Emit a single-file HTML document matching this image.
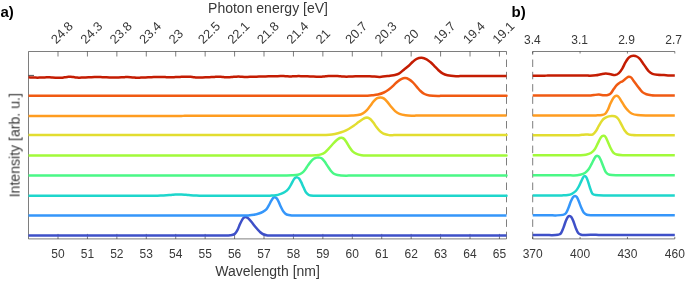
<!DOCTYPE html><html><head><meta charset="utf-8"><style>html,body{margin:0;padding:0;background:#fff;}svg{display:block;}text{font-family:"Liberation Sans", sans-serif;}.t{filter:grayscale(1);}</style></head><body>
<svg width="685" height="283" viewBox="0 0 685 283">
<rect width="685" height="283" fill="#fff"/>
<g stroke="#262626" stroke-width="0.60" fill="none">
<line x1="28.50" y1="51.50" x2="506.50" y2="51.50" />
<line x1="28.50" y1="238.90" x2="506.50" y2="238.90" />
<line x1="28.50" y1="51.50" x2="28.50" y2="238.90" />
<line x1="506.50" y1="51.50" x2="506.50" y2="238.90" stroke-dasharray="7.5,4.8" stroke-dashoffset="4.3"/>
<line x1="58.00" y1="51.50" x2="58.00" y2="56.50" />
<line x1="58.00" y1="238.90" x2="58.00" y2="233.90" />
<line x1="87.43" y1="51.50" x2="87.43" y2="56.50" />
<line x1="87.43" y1="238.90" x2="87.43" y2="233.90" />
<line x1="116.86" y1="51.50" x2="116.86" y2="56.50" />
<line x1="116.86" y1="238.90" x2="116.86" y2="233.90" />
<line x1="146.29" y1="51.50" x2="146.29" y2="56.50" />
<line x1="146.29" y1="238.90" x2="146.29" y2="233.90" />
<line x1="175.72" y1="51.50" x2="175.72" y2="56.50" />
<line x1="175.72" y1="238.90" x2="175.72" y2="233.90" />
<line x1="205.15" y1="51.50" x2="205.15" y2="56.50" />
<line x1="205.15" y1="238.90" x2="205.15" y2="233.90" />
<line x1="234.58" y1="51.50" x2="234.58" y2="56.50" />
<line x1="234.58" y1="238.90" x2="234.58" y2="233.90" />
<line x1="264.01" y1="51.50" x2="264.01" y2="56.50" />
<line x1="264.01" y1="238.90" x2="264.01" y2="233.90" />
<line x1="293.44" y1="51.50" x2="293.44" y2="56.50" />
<line x1="293.44" y1="238.90" x2="293.44" y2="233.90" />
<line x1="322.87" y1="51.50" x2="322.87" y2="56.50" />
<line x1="322.87" y1="238.90" x2="322.87" y2="233.90" />
<line x1="352.30" y1="51.50" x2="352.30" y2="56.50" />
<line x1="352.30" y1="238.90" x2="352.30" y2="233.90" />
<line x1="381.73" y1="51.50" x2="381.73" y2="56.50" />
<line x1="381.73" y1="238.90" x2="381.73" y2="233.90" />
<line x1="411.16" y1="51.50" x2="411.16" y2="56.50" />
<line x1="411.16" y1="238.90" x2="411.16" y2="233.90" />
<line x1="440.59" y1="51.50" x2="440.59" y2="56.50" />
<line x1="440.59" y1="238.90" x2="440.59" y2="233.90" />
<line x1="470.02" y1="51.50" x2="470.02" y2="56.50" />
<line x1="470.02" y1="238.90" x2="470.02" y2="233.90" />
<line x1="499.45" y1="51.50" x2="499.45" y2="56.50" />
<line x1="499.45" y1="238.90" x2="499.45" y2="233.90" />
<line x1="28.50" y1="75.40" x2="34.00" y2="75.40" stroke-width="0.8"/>
<line x1="532.70" y1="51.50" x2="674.80" y2="51.50" />
<line x1="532.70" y1="238.90" x2="674.80" y2="238.90" />
<line x1="532.70" y1="51.50" x2="532.70" y2="238.90" stroke-dasharray="7.5,4.8" stroke-dashoffset="4.3"/>
<line x1="532.70" y1="51.50" x2="532.70" y2="53.50" />
<line x1="532.70" y1="238.90" x2="532.70" y2="236.90" />
<line x1="580.07" y1="51.50" x2="580.07" y2="53.50" />
<line x1="580.07" y1="238.90" x2="580.07" y2="236.90" />
<line x1="627.43" y1="51.50" x2="627.43" y2="53.50" />
<line x1="627.43" y1="238.90" x2="627.43" y2="236.90" />
<line x1="674.80" y1="51.50" x2="674.80" y2="53.50" />
<line x1="674.80" y1="238.90" x2="674.80" y2="236.90" />
</g>
<path d="M28.50,235.40 C29.00,235.40 30.50,235.40 31.50,235.40 C32.50,235.40 33.50,235.40 34.50,235.40 C35.50,235.40 36.50,235.40 37.50,235.40 C38.50,235.40 39.50,235.40 40.50,235.40 C41.50,235.40 42.50,235.40 43.50,235.40 C44.50,235.40 45.50,235.40 46.50,235.40 C47.50,235.40 48.50,235.40 49.50,235.40 C50.50,235.40 51.50,235.40 52.50,235.40 C53.50,235.40 54.50,235.40 55.50,235.40 C56.50,235.40 57.50,235.40 58.50,235.40 C59.50,235.40 60.50,235.40 61.50,235.40 C62.50,235.40 63.50,235.40 64.50,235.40 C65.50,235.40 66.50,235.40 67.50,235.40 C68.50,235.40 69.50,235.40 70.50,235.40 C71.50,235.40 72.50,235.40 73.50,235.40 C74.50,235.40 75.50,235.40 76.50,235.40 C77.50,235.40 78.50,235.40 79.50,235.40 C80.50,235.40 81.50,235.40 82.50,235.40 C83.50,235.40 84.50,235.40 85.50,235.40 C86.50,235.40 87.50,235.40 88.50,235.40 C89.50,235.40 90.50,235.40 91.50,235.40 C92.50,235.40 93.50,235.40 94.50,235.40 C95.50,235.40 96.50,235.40 97.50,235.40 C98.50,235.40 99.50,235.40 100.50,235.40 C101.50,235.40 102.50,235.40 103.50,235.40 C104.50,235.40 105.50,235.40 106.50,235.40 C107.50,235.40 108.50,235.40 109.50,235.40 C110.50,235.40 111.50,235.40 112.50,235.40 C113.50,235.40 114.50,235.40 115.50,235.40 C116.50,235.40 117.50,235.40 118.50,235.40 C119.50,235.40 120.50,235.40 121.50,235.40 C122.50,235.40 123.50,235.40 124.50,235.40 C125.50,235.40 126.50,235.40 127.50,235.40 C128.50,235.40 129.50,235.40 130.50,235.40 C131.50,235.40 132.50,235.40 133.50,235.40 C134.50,235.40 135.50,235.40 136.50,235.40 C137.50,235.40 138.50,235.40 139.50,235.40 C140.50,235.40 141.50,235.40 142.50,235.40 C143.50,235.40 144.50,235.40 145.50,235.40 C146.50,235.40 147.50,235.40 148.50,235.40 C149.50,235.40 150.50,235.40 151.50,235.40 C152.50,235.40 153.50,235.40 154.50,235.40 C155.50,235.40 156.50,235.40 157.50,235.40 C158.50,235.40 159.50,235.40 160.50,235.40 C161.50,235.40 162.50,235.40 163.50,235.40 C164.50,235.40 165.50,235.40 166.50,235.40 C167.50,235.40 168.50,235.40 169.50,235.40 C170.50,235.40 171.50,235.40 172.50,235.40 C173.50,235.40 174.50,235.40 175.50,235.40 C176.50,235.40 177.50,235.40 178.50,235.40 C179.50,235.40 180.50,235.40 181.50,235.40 C182.50,235.40 183.50,235.40 184.50,235.40 C185.50,235.40 186.50,235.40 187.50,235.40 C188.50,235.40 189.50,235.40 190.50,235.40 C191.50,235.40 192.50,235.40 193.50,235.40 C194.50,235.40 195.50,235.40 196.50,235.40 C197.50,235.40 198.50,235.40 199.50,235.40 C200.50,235.40 201.50,235.40 202.50,235.40 C203.50,235.40 204.50,235.40 205.50,235.40 C206.50,235.40 207.50,235.40 208.50,235.40 C209.50,235.40 210.50,235.40 211.50,235.40 C212.50,235.40 213.50,235.40 214.50,235.40 C215.50,235.40 216.50,235.40 217.50,235.40 C218.50,235.40 219.50,235.40 220.50,235.40 C221.50,235.40 222.25,235.40 223.50,235.40 C224.75,235.40 226.58,235.47 228.00,235.40 C229.42,235.33 230.85,235.28 232.00,235.00 C233.15,234.72 234.00,234.50 234.90,233.70 C235.80,232.90 236.57,231.77 237.40,230.20 C238.23,228.63 239.07,226.12 239.90,224.30 C240.73,222.48 241.67,220.45 242.40,219.30 C243.13,218.15 243.65,217.75 244.30,217.40 C244.95,217.05 245.63,217.03 246.30,217.20 C246.97,217.37 247.38,217.55 248.30,218.40 C249.22,219.25 250.57,220.82 251.80,222.30 C253.03,223.78 254.38,225.73 255.70,227.30 C257.02,228.87 258.53,230.58 259.70,231.70 C260.87,232.82 261.38,233.38 262.70,234.00 C264.02,234.62 266.12,235.17 267.60,235.40 C269.08,235.63 270.27,235.40 271.60,235.40 C272.93,235.40 274.27,235.40 275.60,235.40 C276.93,235.40 278.27,235.40 279.60,235.40 C280.93,235.40 282.27,235.40 283.60,235.40 C284.93,235.40 286.27,235.40 287.60,235.40 C288.93,235.40 290.27,235.40 291.60,235.40 C292.93,235.40 294.27,235.40 295.60,235.40 C296.93,235.40 298.27,235.40 299.60,235.40 C300.93,235.40 302.27,235.40 303.60,235.40 C304.93,235.40 306.27,235.40 307.60,235.40 C308.93,235.40 310.27,235.40 311.60,235.40 C312.93,235.40 314.27,235.40 315.60,235.40 C316.93,235.40 318.27,235.40 319.60,235.40 C320.93,235.40 322.27,235.40 323.60,235.40 C324.93,235.40 326.27,235.40 327.60,235.40 C328.93,235.40 330.27,235.40 331.60,235.40 C332.93,235.40 334.27,235.40 335.60,235.40 C336.93,235.40 338.27,235.40 339.60,235.40 C340.93,235.40 342.27,235.40 343.60,235.40 C344.93,235.40 346.27,235.40 347.60,235.40 C348.93,235.40 350.27,235.40 351.60,235.40 C352.93,235.40 354.27,235.40 355.60,235.40 C356.93,235.40 358.27,235.40 359.60,235.40 C360.93,235.40 362.27,235.40 363.60,235.40 C364.93,235.40 366.27,235.40 367.60,235.40 C368.93,235.40 370.27,235.40 371.60,235.40 C372.93,235.40 374.27,235.40 375.60,235.40 C376.93,235.40 378.27,235.40 379.60,235.40 C380.93,235.40 382.27,235.40 383.60,235.40 C384.93,235.40 386.27,235.40 387.60,235.40 C388.93,235.40 390.27,235.40 391.60,235.40 C392.93,235.40 394.27,235.40 395.60,235.40 C396.93,235.40 398.27,235.40 399.60,235.40 C400.93,235.40 402.27,235.40 403.60,235.40 C404.93,235.40 406.27,235.40 407.60,235.40 C408.93,235.40 410.27,235.40 411.60,235.40 C412.93,235.40 414.27,235.40 415.60,235.40 C416.93,235.40 418.27,235.40 419.60,235.40 C420.93,235.40 422.27,235.40 423.60,235.40 C424.93,235.40 426.27,235.40 427.60,235.40 C428.93,235.40 430.27,235.40 431.60,235.40 C432.93,235.40 434.27,235.40 435.60,235.40 C436.93,235.40 438.27,235.40 439.60,235.40 C440.93,235.40 442.27,235.40 443.60,235.40 C444.93,235.40 446.27,235.40 447.60,235.40 C448.93,235.40 450.27,235.40 451.60,235.40 C452.93,235.40 454.27,235.40 455.60,235.40 C456.93,235.40 458.27,235.40 459.60,235.40 C460.93,235.40 462.27,235.40 463.60,235.40 C464.93,235.40 466.27,235.40 467.60,235.40 C468.93,235.40 470.27,235.40 471.60,235.40 C472.93,235.40 474.27,235.40 475.60,235.40 C476.93,235.40 478.27,235.40 479.60,235.40 C480.93,235.40 482.27,235.40 483.60,235.40 C484.93,235.40 486.27,235.40 487.60,235.40 C488.93,235.40 490.27,235.40 491.60,235.40 C492.93,235.40 494.27,235.40 495.60,235.40 C496.93,235.40 498.27,235.40 499.60,235.40 C500.93,235.40 502.45,235.40 503.60,235.40 C504.75,235.40 506.02,235.40 506.50,235.40" fill="none" stroke="#3e50c8" stroke-width="2.50" stroke-linejoin="round"/>
<path d="M28.50,215.45 C29.00,215.45 30.50,215.45 31.50,215.45 C32.50,215.45 33.50,215.45 34.50,215.45 C35.50,215.45 36.50,215.45 37.50,215.45 C38.50,215.45 39.50,215.45 40.50,215.45 C41.50,215.45 42.50,215.45 43.50,215.45 C44.50,215.45 45.50,215.45 46.50,215.45 C47.50,215.45 48.50,215.45 49.50,215.45 C50.50,215.45 51.50,215.45 52.50,215.45 C53.50,215.45 54.50,215.45 55.50,215.45 C56.50,215.45 57.50,215.45 58.50,215.45 C59.50,215.45 60.50,215.45 61.50,215.45 C62.50,215.45 63.50,215.45 64.50,215.45 C65.50,215.45 66.50,215.45 67.50,215.45 C68.50,215.45 69.50,215.45 70.50,215.45 C71.50,215.45 72.50,215.45 73.50,215.45 C74.50,215.45 75.50,215.45 76.50,215.45 C77.50,215.45 78.50,215.45 79.50,215.45 C80.50,215.45 81.50,215.45 82.50,215.45 C83.50,215.45 84.50,215.45 85.50,215.45 C86.50,215.45 87.50,215.45 88.50,215.45 C89.50,215.45 90.50,215.45 91.50,215.45 C92.50,215.45 93.50,215.45 94.50,215.45 C95.50,215.45 96.50,215.45 97.50,215.45 C98.50,215.45 99.50,215.45 100.50,215.45 C101.50,215.45 102.50,215.45 103.50,215.45 C104.50,215.45 105.50,215.45 106.50,215.45 C107.50,215.45 108.50,215.45 109.50,215.45 C110.50,215.45 111.50,215.45 112.50,215.45 C113.50,215.45 114.50,215.45 115.50,215.45 C116.50,215.45 117.50,215.45 118.50,215.45 C119.50,215.45 120.50,215.45 121.50,215.45 C122.50,215.45 123.50,215.45 124.50,215.45 C125.50,215.45 126.50,215.45 127.50,215.45 C128.50,215.45 129.50,215.45 130.50,215.45 C131.50,215.45 132.50,215.45 133.50,215.45 C134.50,215.45 135.50,215.45 136.50,215.45 C137.50,215.45 138.50,215.45 139.50,215.45 C140.50,215.45 141.50,215.45 142.50,215.45 C143.50,215.45 144.50,215.45 145.50,215.45 C146.50,215.45 147.50,215.45 148.50,215.45 C149.50,215.45 150.50,215.45 151.50,215.45 C152.50,215.45 153.50,215.45 154.50,215.45 C155.50,215.45 156.50,215.45 157.50,215.45 C158.50,215.45 159.50,215.45 160.50,215.45 C161.50,215.45 162.50,215.45 163.50,215.45 C164.50,215.45 165.50,215.45 166.50,215.45 C167.50,215.45 168.50,215.45 169.50,215.45 C170.50,215.45 171.50,215.45 172.50,215.45 C173.50,215.45 174.50,215.45 175.50,215.45 C176.50,215.45 177.50,215.45 178.50,215.45 C179.50,215.45 180.50,215.45 181.50,215.45 C182.50,215.45 183.50,215.45 184.50,215.45 C185.50,215.45 186.50,215.45 187.50,215.45 C188.50,215.45 189.50,215.45 190.50,215.45 C191.50,215.45 192.50,215.45 193.50,215.45 C194.50,215.45 195.50,215.45 196.50,215.45 C197.50,215.45 198.50,215.45 199.50,215.45 C200.50,215.45 201.50,215.45 202.50,215.45 C203.50,215.45 204.50,215.45 205.50,215.45 C206.50,215.45 207.50,215.45 208.50,215.45 C209.50,215.45 210.50,215.45 211.50,215.45 C212.50,215.45 213.50,215.45 214.50,215.45 C215.50,215.45 216.50,215.45 217.50,215.45 C218.50,215.45 219.50,215.45 220.50,215.45 C221.50,215.45 222.50,215.45 223.50,215.45 C224.50,215.45 225.50,215.45 226.50,215.45 C227.50,215.45 228.50,215.45 229.50,215.45 C230.50,215.45 231.50,215.45 232.50,215.45 C233.50,215.45 234.50,215.45 235.50,215.45 C236.50,215.45 237.50,215.45 238.50,215.45 C239.50,215.45 240.50,215.45 241.50,215.45 C242.50,215.45 243.42,215.46 244.50,215.45 C245.58,215.44 246.43,215.51 248.00,215.40 C249.57,215.29 252.08,215.12 253.90,214.80 C255.72,214.48 257.42,214.00 258.90,213.50 C260.38,213.00 261.57,212.50 262.80,211.80 C264.03,211.10 265.30,210.37 266.30,209.30 C267.30,208.23 267.98,206.80 268.80,205.40 C269.62,204.00 270.47,202.15 271.20,200.90 C271.93,199.65 272.62,198.52 273.20,197.90 C273.78,197.28 274.12,197.12 274.70,197.20 C275.28,197.28 276.03,197.62 276.70,198.40 C277.37,199.18 277.97,200.42 278.70,201.90 C279.43,203.38 280.28,205.65 281.10,207.30 C281.92,208.95 282.68,210.60 283.60,211.80 C284.52,213.00 285.20,213.88 286.60,214.50 C288.00,215.12 290.43,215.34 292.00,215.50 C293.57,215.66 294.67,215.46 296.00,215.45 C297.33,215.44 298.67,215.45 300.00,215.45 C301.33,215.45 302.67,215.45 304.00,215.45 C305.33,215.45 306.67,215.45 308.00,215.45 C309.33,215.45 310.67,215.45 312.00,215.45 C313.33,215.45 314.67,215.45 316.00,215.45 C317.33,215.45 318.67,215.45 320.00,215.45 C321.33,215.45 322.67,215.45 324.00,215.45 C325.33,215.45 326.67,215.45 328.00,215.45 C329.33,215.45 330.67,215.45 332.00,215.45 C333.33,215.45 334.67,215.45 336.00,215.45 C337.33,215.45 338.67,215.45 340.00,215.45 C341.33,215.45 342.67,215.45 344.00,215.45 C345.33,215.45 346.67,215.45 348.00,215.45 C349.33,215.45 350.67,215.45 352.00,215.45 C353.33,215.45 354.67,215.45 356.00,215.45 C357.33,215.45 358.67,215.45 360.00,215.45 C361.33,215.45 362.67,215.45 364.00,215.45 C365.33,215.45 366.67,215.45 368.00,215.45 C369.33,215.45 370.67,215.45 372.00,215.45 C373.33,215.45 374.67,215.45 376.00,215.45 C377.33,215.45 378.67,215.45 380.00,215.45 C381.33,215.45 382.67,215.45 384.00,215.45 C385.33,215.45 386.67,215.45 388.00,215.45 C389.33,215.45 390.67,215.45 392.00,215.45 C393.33,215.45 394.67,215.45 396.00,215.45 C397.33,215.45 398.67,215.45 400.00,215.45 C401.33,215.45 402.67,215.45 404.00,215.45 C405.33,215.45 406.67,215.45 408.00,215.45 C409.33,215.45 410.67,215.45 412.00,215.45 C413.33,215.45 414.67,215.45 416.00,215.45 C417.33,215.45 418.67,215.45 420.00,215.45 C421.33,215.45 422.67,215.45 424.00,215.45 C425.33,215.45 426.67,215.45 428.00,215.45 C429.33,215.45 430.67,215.45 432.00,215.45 C433.33,215.45 434.67,215.45 436.00,215.45 C437.33,215.45 438.67,215.45 440.00,215.45 C441.33,215.45 442.67,215.45 444.00,215.45 C445.33,215.45 446.67,215.45 448.00,215.45 C449.33,215.45 450.67,215.45 452.00,215.45 C453.33,215.45 454.67,215.45 456.00,215.45 C457.33,215.45 458.67,215.45 460.00,215.45 C461.33,215.45 462.67,215.45 464.00,215.45 C465.33,215.45 466.67,215.45 468.00,215.45 C469.33,215.45 470.67,215.45 472.00,215.45 C473.33,215.45 474.67,215.45 476.00,215.45 C477.33,215.45 478.67,215.45 480.00,215.45 C481.33,215.45 482.67,215.45 484.00,215.45 C485.33,215.45 486.67,215.45 488.00,215.45 C489.33,215.45 490.67,215.45 492.00,215.45 C493.33,215.45 494.67,215.45 496.00,215.45 C497.33,215.45 498.67,215.45 500.00,215.45 C501.33,215.45 502.92,215.45 504.00,215.45 C505.08,215.45 506.08,215.45 506.50,215.45" fill="none" stroke="#3596fa" stroke-width="2.50" stroke-linejoin="round"/>
<path d="M28.50,195.70 C29.00,195.70 30.50,195.70 31.50,195.70 C32.50,195.70 33.50,195.70 34.50,195.70 C35.50,195.70 36.50,195.70 37.50,195.70 C38.50,195.70 39.50,195.70 40.50,195.70 C41.50,195.70 42.50,195.70 43.50,195.70 C44.50,195.70 45.50,195.70 46.50,195.70 C47.50,195.70 48.50,195.70 49.50,195.70 C50.50,195.70 51.50,195.70 52.50,195.70 C53.50,195.70 54.50,195.70 55.50,195.70 C56.50,195.70 57.50,195.70 58.50,195.70 C59.50,195.70 60.50,195.70 61.50,195.70 C62.50,195.70 63.50,195.70 64.50,195.70 C65.50,195.70 66.50,195.70 67.50,195.70 C68.50,195.70 69.50,195.70 70.50,195.70 C71.50,195.70 72.50,195.70 73.50,195.70 C74.50,195.70 75.50,195.70 76.50,195.70 C77.50,195.70 78.50,195.70 79.50,195.70 C80.50,195.70 81.50,195.70 82.50,195.70 C83.50,195.70 84.50,195.70 85.50,195.70 C86.50,195.70 87.50,195.70 88.50,195.70 C89.50,195.70 90.50,195.70 91.50,195.70 C92.50,195.70 93.50,195.70 94.50,195.70 C95.50,195.70 96.50,195.70 97.50,195.70 C98.50,195.70 99.50,195.70 100.50,195.70 C101.50,195.70 102.50,195.70 103.50,195.70 C104.50,195.70 105.50,195.70 106.50,195.70 C107.50,195.70 108.50,195.70 109.50,195.70 C110.50,195.70 111.50,195.70 112.50,195.70 C113.50,195.70 114.50,195.70 115.50,195.70 C116.50,195.70 117.50,195.70 118.50,195.70 C119.50,195.70 120.50,195.70 121.50,195.70 C122.50,195.70 123.50,195.70 124.50,195.70 C125.50,195.70 126.50,195.70 127.50,195.70 C128.50,195.70 129.50,195.70 130.50,195.70 C131.50,195.70 132.50,195.70 133.50,195.70 C134.50,195.70 135.50,195.70 136.50,195.70 C137.50,195.70 138.50,195.70 139.50,195.70 C140.50,195.70 141.50,195.70 142.50,195.70 C143.50,195.70 144.50,195.70 145.50,195.70 C146.50,195.70 147.50,195.70 148.50,195.70 C149.50,195.70 150.50,195.70 151.50,195.70 C152.50,195.69 153.50,195.69 154.50,195.69 C155.50,195.68 156.50,195.68 157.50,195.66 C158.50,195.65 159.50,195.64 160.50,195.61 C161.50,195.58 162.50,195.55 163.50,195.50 C164.50,195.45 165.50,195.39 166.50,195.32 C167.50,195.24 168.50,195.15 169.50,195.06 C170.50,194.97 171.50,194.86 172.50,194.77 C173.50,194.68 174.50,194.58 175.50,194.52 C176.50,194.46 177.50,194.41 178.50,194.40 C179.50,194.39 180.50,194.42 181.50,194.46 C182.50,194.51 183.50,194.59 184.50,194.67 C185.50,194.76 186.50,194.87 187.50,194.96 C188.50,195.05 189.50,195.16 190.50,195.24 C191.50,195.32 192.50,195.39 193.50,195.45 C194.50,195.51 195.50,195.55 196.50,195.58 C197.50,195.61 198.50,195.63 199.50,195.65 C200.50,195.67 201.50,195.68 202.50,195.68 C203.50,195.69 204.50,195.69 205.50,195.69 C206.50,195.70 207.50,195.70 208.50,195.70 C209.50,195.70 210.50,195.70 211.50,195.70 C212.50,195.70 213.50,195.70 214.50,195.70 C215.50,195.70 216.50,195.70 217.50,195.70 C218.50,195.70 219.50,195.70 220.50,195.70 C221.50,195.70 222.50,195.70 223.50,195.70 C224.50,195.70 225.50,195.70 226.50,195.70 C227.50,195.70 228.50,195.70 229.50,195.70 C230.50,195.70 231.50,195.70 232.50,195.70 C233.50,195.70 234.50,195.70 235.50,195.70 C236.50,195.70 237.50,195.70 238.50,195.70 C239.50,195.70 240.50,195.70 241.50,195.70 C242.50,195.70 243.50,195.70 244.50,195.70 C245.50,195.70 246.50,195.70 247.50,195.70 C248.50,195.70 249.50,195.70 250.50,195.70 C251.50,195.70 252.50,195.70 253.50,195.70 C254.50,195.70 255.50,195.70 256.50,195.70 C257.50,195.70 258.50,195.70 259.50,195.70 C260.50,195.70 261.50,195.70 262.50,195.70 C263.50,195.70 264.25,195.71 265.50,195.70 C266.75,195.69 268.27,195.71 270.00,195.65 C271.73,195.59 274.08,195.65 275.90,195.35 C277.72,195.05 279.42,194.40 280.90,193.85 C282.38,193.30 283.57,192.85 284.80,192.05 C286.03,191.25 287.22,190.37 288.30,189.05 C289.38,187.73 290.40,185.72 291.30,184.15 C292.20,182.58 293.00,180.73 293.70,179.65 C294.40,178.57 294.92,178.03 295.50,177.65 C296.08,177.27 296.58,177.18 297.20,177.35 C297.82,177.52 298.53,177.85 299.20,178.65 C299.87,179.45 300.47,180.67 301.20,182.15 C301.93,183.63 302.78,185.82 303.60,187.55 C304.42,189.28 305.18,191.30 306.10,192.55 C307.02,193.80 307.78,194.52 309.10,195.05 C310.42,195.58 312.52,195.64 314.00,195.75 C315.48,195.86 316.67,195.71 318.00,195.70 C319.33,195.69 320.67,195.70 322.00,195.70 C323.33,195.70 324.67,195.70 326.00,195.70 C327.33,195.70 328.67,195.70 330.00,195.70 C331.33,195.70 332.67,195.70 334.00,195.70 C335.33,195.70 336.67,195.70 338.00,195.70 C339.33,195.70 340.67,195.70 342.00,195.70 C343.33,195.70 344.67,195.70 346.00,195.70 C347.33,195.70 348.67,195.70 350.00,195.70 C351.33,195.70 352.67,195.70 354.00,195.70 C355.33,195.70 356.67,195.70 358.00,195.70 C359.33,195.70 360.67,195.70 362.00,195.70 C363.33,195.70 364.67,195.70 366.00,195.70 C367.33,195.70 368.67,195.70 370.00,195.70 C371.33,195.70 372.67,195.70 374.00,195.70 C375.33,195.70 376.67,195.70 378.00,195.70 C379.33,195.70 380.67,195.70 382.00,195.70 C383.33,195.70 384.67,195.70 386.00,195.70 C387.33,195.70 388.67,195.70 390.00,195.70 C391.33,195.70 392.67,195.70 394.00,195.70 C395.33,195.70 396.67,195.70 398.00,195.70 C399.33,195.70 400.67,195.70 402.00,195.70 C403.33,195.70 404.67,195.70 406.00,195.70 C407.33,195.70 408.67,195.70 410.00,195.70 C411.33,195.70 412.67,195.70 414.00,195.70 C415.33,195.70 416.67,195.70 418.00,195.70 C419.33,195.70 420.67,195.70 422.00,195.70 C423.33,195.70 424.67,195.70 426.00,195.70 C427.33,195.70 428.67,195.70 430.00,195.70 C431.33,195.70 432.67,195.70 434.00,195.70 C435.33,195.70 436.67,195.70 438.00,195.70 C439.33,195.70 440.67,195.70 442.00,195.70 C443.33,195.70 444.67,195.70 446.00,195.70 C447.33,195.70 448.67,195.70 450.00,195.70 C451.33,195.70 452.67,195.70 454.00,195.70 C455.33,195.70 456.67,195.70 458.00,195.70 C459.33,195.70 460.67,195.70 462.00,195.70 C463.33,195.70 464.67,195.70 466.00,195.70 C467.33,195.70 468.67,195.70 470.00,195.70 C471.33,195.70 472.67,195.70 474.00,195.70 C475.33,195.70 476.67,195.70 478.00,195.70 C479.33,195.70 480.67,195.70 482.00,195.70 C483.33,195.70 484.67,195.70 486.00,195.70 C487.33,195.70 488.67,195.70 490.00,195.70 C491.33,195.70 492.67,195.70 494.00,195.70 C495.33,195.70 496.67,195.70 498.00,195.70 C499.33,195.70 500.67,195.70 502.00,195.70 C503.33,195.70 505.25,195.70 506.00,195.70 C506.75,195.70 506.42,195.70 506.50,195.70" fill="none" stroke="#1ed6cc" stroke-width="2.50" stroke-linejoin="round"/>
<path d="M28.50,175.50 C29.00,175.50 30.50,175.50 31.50,175.50 C32.50,175.50 33.50,175.50 34.50,175.50 C35.50,175.50 36.50,175.50 37.50,175.50 C38.50,175.50 39.50,175.50 40.50,175.50 C41.50,175.50 42.50,175.50 43.50,175.50 C44.50,175.50 45.50,175.50 46.50,175.50 C47.50,175.50 48.50,175.50 49.50,175.50 C50.50,175.50 51.50,175.50 52.50,175.50 C53.50,175.50 54.50,175.50 55.50,175.50 C56.50,175.50 57.50,175.50 58.50,175.50 C59.50,175.50 60.50,175.50 61.50,175.50 C62.50,175.50 63.50,175.50 64.50,175.50 C65.50,175.50 66.50,175.50 67.50,175.50 C68.50,175.50 69.50,175.50 70.50,175.50 C71.50,175.50 72.50,175.50 73.50,175.50 C74.50,175.50 75.50,175.50 76.50,175.50 C77.50,175.50 78.50,175.50 79.50,175.50 C80.50,175.50 81.50,175.50 82.50,175.50 C83.50,175.50 84.50,175.50 85.50,175.50 C86.50,175.50 87.50,175.50 88.50,175.50 C89.50,175.50 90.50,175.50 91.50,175.50 C92.50,175.50 93.50,175.50 94.50,175.50 C95.50,175.50 96.50,175.50 97.50,175.50 C98.50,175.50 99.50,175.50 100.50,175.50 C101.50,175.50 102.50,175.50 103.50,175.50 C104.50,175.50 105.50,175.50 106.50,175.50 C107.50,175.50 108.50,175.50 109.50,175.50 C110.50,175.50 111.50,175.50 112.50,175.50 C113.50,175.50 114.50,175.50 115.50,175.50 C116.50,175.50 117.50,175.50 118.50,175.50 C119.50,175.50 120.50,175.50 121.50,175.50 C122.50,175.50 123.50,175.50 124.50,175.50 C125.50,175.50 126.50,175.50 127.50,175.50 C128.50,175.50 129.50,175.50 130.50,175.50 C131.50,175.50 132.50,175.50 133.50,175.50 C134.50,175.50 135.50,175.50 136.50,175.50 C137.50,175.50 138.50,175.50 139.50,175.50 C140.50,175.50 141.50,175.50 142.50,175.50 C143.50,175.50 144.50,175.50 145.50,175.50 C146.50,175.50 147.50,175.50 148.50,175.50 C149.50,175.50 150.50,175.50 151.50,175.50 C152.50,175.50 153.50,175.50 154.50,175.50 C155.50,175.50 156.50,175.50 157.50,175.50 C158.50,175.50 159.50,175.50 160.50,175.50 C161.50,175.50 162.50,175.50 163.50,175.50 C164.50,175.50 165.50,175.50 166.50,175.50 C167.50,175.50 168.50,175.50 169.50,175.50 C170.50,175.50 171.50,175.50 172.50,175.50 C173.50,175.50 174.50,175.50 175.50,175.50 C176.50,175.50 177.50,175.50 178.50,175.50 C179.50,175.50 180.50,175.50 181.50,175.50 C182.50,175.50 183.50,175.50 184.50,175.50 C185.50,175.50 186.50,175.50 187.50,175.50 C188.50,175.50 189.50,175.50 190.50,175.50 C191.50,175.50 192.50,175.50 193.50,175.50 C194.50,175.50 195.50,175.50 196.50,175.50 C197.50,175.50 198.50,175.50 199.50,175.50 C200.50,175.50 201.50,175.50 202.50,175.50 C203.50,175.50 204.50,175.50 205.50,175.50 C206.50,175.50 207.50,175.50 208.50,175.50 C209.50,175.50 210.50,175.50 211.50,175.50 C212.50,175.50 213.50,175.50 214.50,175.50 C215.50,175.50 216.50,175.50 217.50,175.50 C218.50,175.50 219.50,175.50 220.50,175.50 C221.50,175.50 222.50,175.50 223.50,175.50 C224.50,175.50 225.50,175.50 226.50,175.50 C227.50,175.50 228.50,175.50 229.50,175.50 C230.50,175.50 231.50,175.50 232.50,175.50 C233.50,175.50 234.50,175.50 235.50,175.50 C236.50,175.50 237.50,175.50 238.50,175.50 C239.50,175.50 240.50,175.50 241.50,175.50 C242.50,175.50 243.50,175.50 244.50,175.50 C245.50,175.50 246.50,175.50 247.50,175.50 C248.50,175.50 249.50,175.50 250.50,175.50 C251.50,175.50 252.50,175.50 253.50,175.50 C254.50,175.50 255.50,175.50 256.50,175.50 C257.50,175.50 258.50,175.50 259.50,175.50 C260.50,175.50 261.50,175.50 262.50,175.50 C263.50,175.50 264.50,175.50 265.50,175.50 C266.50,175.50 267.50,175.50 268.50,175.50 C269.50,175.50 270.50,175.50 271.50,175.50 C272.50,175.50 273.50,175.50 274.50,175.50 C275.50,175.50 276.50,175.50 277.50,175.50 C278.50,175.50 279.50,175.50 280.50,175.50 C281.50,175.50 282.50,175.50 283.50,175.50 C284.50,175.50 285.08,175.53 286.50,175.50 C287.92,175.47 290.10,175.43 292.00,175.30 C293.90,175.17 296.25,175.08 297.90,174.70 C299.55,174.32 300.73,173.78 301.90,173.00 C303.07,172.22 303.92,171.23 304.90,170.00 C305.88,168.77 306.82,167.00 307.80,165.60 C308.78,164.20 309.80,162.73 310.80,161.60 C311.80,160.47 312.82,159.47 313.80,158.80 C314.78,158.13 315.72,157.80 316.70,157.60 C317.68,157.40 318.78,157.40 319.70,157.60 C320.62,157.80 321.38,158.13 322.20,158.80 C323.02,159.47 323.70,160.38 324.60,161.60 C325.50,162.82 326.60,164.62 327.60,166.10 C328.60,167.58 329.62,169.27 330.60,170.50 C331.58,171.73 332.35,172.75 333.50,173.50 C334.65,174.25 335.42,174.63 337.50,175.00 C339.58,175.37 343.92,175.62 346.00,175.70 C348.08,175.78 348.67,175.53 350.00,175.50 C351.33,175.47 352.67,175.50 354.00,175.50 C355.33,175.50 356.67,175.50 358.00,175.50 C359.33,175.50 360.67,175.50 362.00,175.50 C363.33,175.50 364.67,175.50 366.00,175.50 C367.33,175.50 368.67,175.50 370.00,175.50 C371.33,175.50 372.67,175.50 374.00,175.50 C375.33,175.50 376.67,175.50 378.00,175.50 C379.33,175.50 380.67,175.50 382.00,175.50 C383.33,175.50 384.67,175.50 386.00,175.50 C387.33,175.50 388.67,175.50 390.00,175.50 C391.33,175.50 392.67,175.50 394.00,175.50 C395.33,175.50 396.67,175.50 398.00,175.50 C399.33,175.50 400.67,175.50 402.00,175.50 C403.33,175.50 404.67,175.50 406.00,175.50 C407.33,175.50 408.67,175.50 410.00,175.50 C411.33,175.50 412.67,175.50 414.00,175.50 C415.33,175.50 416.67,175.50 418.00,175.50 C419.33,175.50 420.67,175.50 422.00,175.50 C423.33,175.50 424.67,175.50 426.00,175.50 C427.33,175.50 428.67,175.50 430.00,175.50 C431.33,175.50 432.67,175.50 434.00,175.50 C435.33,175.50 436.67,175.50 438.00,175.50 C439.33,175.50 440.67,175.50 442.00,175.50 C443.33,175.50 444.67,175.50 446.00,175.50 C447.33,175.50 448.67,175.50 450.00,175.50 C451.33,175.50 452.67,175.50 454.00,175.50 C455.33,175.50 456.67,175.50 458.00,175.50 C459.33,175.50 460.67,175.50 462.00,175.50 C463.33,175.50 464.67,175.50 466.00,175.50 C467.33,175.50 468.67,175.50 470.00,175.50 C471.33,175.50 472.67,175.50 474.00,175.50 C475.33,175.50 476.67,175.50 478.00,175.50 C479.33,175.50 480.67,175.50 482.00,175.50 C483.33,175.50 484.67,175.50 486.00,175.50 C487.33,175.50 488.67,175.50 490.00,175.50 C491.33,175.50 492.67,175.50 494.00,175.50 C495.33,175.50 496.67,175.50 498.00,175.50 C499.33,175.50 500.67,175.50 502.00,175.50 C503.33,175.50 505.25,175.50 506.00,175.50 C506.75,175.50 506.42,175.50 506.50,175.50" fill="none" stroke="#4af886" stroke-width="2.50" stroke-linejoin="round"/>
<path d="M28.50,155.40 C29.00,155.40 30.50,155.40 31.50,155.40 C32.50,155.40 33.50,155.40 34.50,155.40 C35.50,155.40 36.50,155.40 37.50,155.40 C38.50,155.40 39.50,155.40 40.50,155.40 C41.50,155.40 42.50,155.40 43.50,155.40 C44.50,155.40 45.50,155.40 46.50,155.40 C47.50,155.40 48.50,155.40 49.50,155.40 C50.50,155.40 51.50,155.40 52.50,155.40 C53.50,155.40 54.50,155.40 55.50,155.40 C56.50,155.40 57.50,155.40 58.50,155.40 C59.50,155.40 60.50,155.40 61.50,155.40 C62.50,155.40 63.50,155.40 64.50,155.40 C65.50,155.40 66.50,155.40 67.50,155.40 C68.50,155.40 69.50,155.40 70.50,155.40 C71.50,155.40 72.50,155.40 73.50,155.40 C74.50,155.40 75.50,155.40 76.50,155.40 C77.50,155.40 78.50,155.40 79.50,155.40 C80.50,155.40 81.50,155.40 82.50,155.40 C83.50,155.40 84.50,155.40 85.50,155.40 C86.50,155.40 87.50,155.40 88.50,155.40 C89.50,155.40 90.50,155.40 91.50,155.40 C92.50,155.40 93.50,155.40 94.50,155.40 C95.50,155.40 96.50,155.40 97.50,155.40 C98.50,155.40 99.50,155.40 100.50,155.40 C101.50,155.40 102.50,155.40 103.50,155.40 C104.50,155.40 105.50,155.40 106.50,155.40 C107.50,155.40 108.50,155.40 109.50,155.40 C110.50,155.40 111.50,155.40 112.50,155.40 C113.50,155.40 114.50,155.40 115.50,155.40 C116.50,155.40 117.50,155.40 118.50,155.40 C119.50,155.40 120.50,155.40 121.50,155.40 C122.50,155.40 123.50,155.40 124.50,155.40 C125.50,155.40 126.50,155.40 127.50,155.40 C128.50,155.40 129.50,155.40 130.50,155.40 C131.50,155.40 132.50,155.40 133.50,155.40 C134.50,155.40 135.50,155.40 136.50,155.40 C137.50,155.40 138.50,155.40 139.50,155.40 C140.50,155.40 141.50,155.40 142.50,155.40 C143.50,155.40 144.50,155.40 145.50,155.40 C146.50,155.40 147.50,155.40 148.50,155.40 C149.50,155.40 150.50,155.40 151.50,155.40 C152.50,155.40 153.50,155.40 154.50,155.40 C155.50,155.40 156.50,155.40 157.50,155.40 C158.50,155.40 159.50,155.40 160.50,155.40 C161.50,155.40 162.50,155.40 163.50,155.40 C164.50,155.40 165.50,155.40 166.50,155.40 C167.50,155.40 168.50,155.40 169.50,155.40 C170.50,155.40 171.50,155.40 172.50,155.40 C173.50,155.40 174.50,155.40 175.50,155.40 C176.50,155.40 177.50,155.40 178.50,155.40 C179.50,155.40 180.50,155.40 181.50,155.40 C182.50,155.40 183.50,155.40 184.50,155.40 C185.50,155.40 186.50,155.40 187.50,155.40 C188.50,155.40 189.50,155.40 190.50,155.40 C191.50,155.40 192.50,155.40 193.50,155.40 C194.50,155.40 195.50,155.40 196.50,155.40 C197.50,155.40 198.50,155.40 199.50,155.40 C200.50,155.40 201.50,155.40 202.50,155.40 C203.50,155.40 204.50,155.40 205.50,155.40 C206.50,155.40 207.50,155.40 208.50,155.40 C209.50,155.40 210.50,155.40 211.50,155.40 C212.50,155.40 213.50,155.40 214.50,155.40 C215.50,155.40 216.50,155.40 217.50,155.40 C218.50,155.40 219.50,155.40 220.50,155.40 C221.50,155.40 222.50,155.40 223.50,155.40 C224.50,155.40 225.50,155.40 226.50,155.40 C227.50,155.40 228.50,155.40 229.50,155.40 C230.50,155.40 231.50,155.40 232.50,155.40 C233.50,155.40 234.50,155.40 235.50,155.40 C236.50,155.40 237.50,155.40 238.50,155.40 C239.50,155.40 240.50,155.40 241.50,155.40 C242.50,155.40 243.50,155.40 244.50,155.40 C245.50,155.40 246.50,155.40 247.50,155.40 C248.50,155.40 249.50,155.40 250.50,155.40 C251.50,155.40 252.50,155.40 253.50,155.40 C254.50,155.40 255.50,155.40 256.50,155.40 C257.50,155.40 258.50,155.40 259.50,155.40 C260.50,155.40 261.50,155.40 262.50,155.40 C263.50,155.40 264.50,155.40 265.50,155.40 C266.50,155.40 267.50,155.40 268.50,155.40 C269.50,155.40 270.50,155.40 271.50,155.40 C272.50,155.40 273.50,155.40 274.50,155.40 C275.50,155.40 276.50,155.40 277.50,155.40 C278.50,155.40 279.50,155.40 280.50,155.40 C281.50,155.40 282.50,155.40 283.50,155.40 C284.50,155.40 285.50,155.40 286.50,155.40 C287.50,155.40 288.50,155.40 289.50,155.40 C290.50,155.40 291.50,155.40 292.50,155.40 C293.50,155.40 294.50,155.40 295.50,155.40 C296.50,155.40 297.50,155.40 298.50,155.40 C299.50,155.40 300.50,155.40 301.50,155.40 C302.50,155.40 303.50,155.40 304.50,155.40 C305.50,155.40 306.50,155.40 307.50,155.40 C308.50,155.40 309.08,155.43 310.50,155.40 C311.92,155.37 314.25,155.37 316.00,155.20 C317.75,155.03 319.52,154.87 321.00,154.40 C322.48,153.93 323.58,153.40 324.90,152.40 C326.22,151.40 327.58,149.80 328.90,148.40 C330.22,147.00 331.48,145.40 332.80,144.00 C334.12,142.60 335.63,141.00 336.80,140.00 C337.97,139.00 338.98,138.38 339.80,138.00 C340.62,137.62 340.97,137.53 341.70,137.70 C342.43,137.87 343.37,138.20 344.20,139.00 C345.03,139.80 345.78,141.08 346.70,142.50 C347.62,143.92 348.72,146.02 349.70,147.50 C350.68,148.98 351.45,150.33 352.60,151.40 C353.75,152.47 355.12,153.27 356.60,153.90 C358.08,154.53 359.93,154.92 361.50,155.20 C363.07,155.48 364.58,155.57 366.00,155.60 C367.42,155.63 368.67,155.43 370.00,155.40 C371.33,155.37 372.67,155.40 374.00,155.40 C375.33,155.40 376.67,155.40 378.00,155.40 C379.33,155.40 380.67,155.40 382.00,155.40 C383.33,155.40 384.67,155.40 386.00,155.40 C387.33,155.40 388.67,155.40 390.00,155.40 C391.33,155.40 392.67,155.40 394.00,155.40 C395.33,155.40 396.67,155.40 398.00,155.40 C399.33,155.40 400.67,155.40 402.00,155.40 C403.33,155.40 404.67,155.40 406.00,155.40 C407.33,155.40 408.67,155.40 410.00,155.40 C411.33,155.40 412.67,155.40 414.00,155.40 C415.33,155.40 416.67,155.40 418.00,155.40 C419.33,155.40 420.67,155.40 422.00,155.40 C423.33,155.40 424.67,155.40 426.00,155.40 C427.33,155.40 428.67,155.40 430.00,155.40 C431.33,155.40 432.67,155.40 434.00,155.40 C435.33,155.40 436.67,155.40 438.00,155.40 C439.33,155.40 440.67,155.40 442.00,155.40 C443.33,155.40 444.67,155.40 446.00,155.40 C447.33,155.40 448.67,155.40 450.00,155.40 C451.33,155.40 452.67,155.40 454.00,155.40 C455.33,155.40 456.67,155.40 458.00,155.40 C459.33,155.40 460.67,155.40 462.00,155.40 C463.33,155.40 464.67,155.40 466.00,155.40 C467.33,155.40 468.67,155.40 470.00,155.40 C471.33,155.40 472.67,155.40 474.00,155.40 C475.33,155.40 476.67,155.40 478.00,155.40 C479.33,155.40 480.67,155.40 482.00,155.40 C483.33,155.40 484.67,155.40 486.00,155.40 C487.33,155.40 488.67,155.40 490.00,155.40 C491.33,155.40 492.67,155.40 494.00,155.40 C495.33,155.40 496.67,155.40 498.00,155.40 C499.33,155.40 500.67,155.40 502.00,155.40 C503.33,155.40 505.25,155.40 506.00,155.40 C506.75,155.40 506.42,155.40 506.50,155.40" fill="none" stroke="#a2fa3a" stroke-width="2.50" stroke-linejoin="round"/>
<path d="M28.50,135.10 C29.00,135.10 30.50,135.10 31.50,135.10 C32.50,135.10 33.50,135.10 34.50,135.10 C35.50,135.10 36.50,135.10 37.50,135.10 C38.50,135.10 39.50,135.10 40.50,135.10 C41.50,135.10 42.50,135.10 43.50,135.10 C44.50,135.10 45.50,135.10 46.50,135.10 C47.50,135.10 48.50,135.10 49.50,135.10 C50.50,135.10 51.50,135.10 52.50,135.10 C53.50,135.10 54.50,135.10 55.50,135.10 C56.50,135.10 57.50,135.10 58.50,135.10 C59.50,135.10 60.50,135.10 61.50,135.10 C62.50,135.10 63.50,135.10 64.50,135.10 C65.50,135.10 66.50,135.10 67.50,135.10 C68.50,135.10 69.50,135.10 70.50,135.10 C71.50,135.10 72.50,135.10 73.50,135.10 C74.50,135.10 75.50,135.10 76.50,135.10 C77.50,135.10 78.50,135.10 79.50,135.10 C80.50,135.10 81.50,135.10 82.50,135.10 C83.50,135.10 84.50,135.10 85.50,135.10 C86.50,135.10 87.50,135.10 88.50,135.10 C89.50,135.10 90.50,135.10 91.50,135.10 C92.50,135.10 93.50,135.10 94.50,135.10 C95.50,135.10 96.50,135.10 97.50,135.10 C98.50,135.10 99.50,135.10 100.50,135.10 C101.50,135.10 102.50,135.10 103.50,135.10 C104.50,135.10 105.50,135.10 106.50,135.10 C107.50,135.10 108.50,135.10 109.50,135.10 C110.50,135.10 111.50,135.10 112.50,135.10 C113.50,135.10 114.50,135.10 115.50,135.10 C116.50,135.10 117.50,135.10 118.50,135.10 C119.50,135.10 120.50,135.10 121.50,135.10 C122.50,135.10 123.50,135.10 124.50,135.10 C125.50,135.10 126.50,135.10 127.50,135.10 C128.50,135.10 129.50,135.10 130.50,135.10 C131.50,135.10 132.50,135.10 133.50,135.10 C134.50,135.10 135.50,135.10 136.50,135.10 C137.50,135.10 138.50,135.10 139.50,135.10 C140.50,135.10 141.50,135.10 142.50,135.10 C143.50,135.10 144.50,135.10 145.50,135.10 C146.50,135.10 147.50,135.10 148.50,135.10 C149.50,135.10 150.50,135.10 151.50,135.10 C152.50,135.10 153.50,135.10 154.50,135.10 C155.50,135.10 156.50,135.10 157.50,135.10 C158.50,135.10 159.50,135.10 160.50,135.10 C161.50,135.10 162.50,135.10 163.50,135.10 C164.50,135.10 165.50,135.10 166.50,135.10 C167.50,135.10 168.50,135.10 169.50,135.10 C170.50,135.10 171.50,135.10 172.50,135.10 C173.50,135.10 174.50,135.10 175.50,135.10 C176.50,135.10 177.50,135.10 178.50,135.10 C179.50,135.10 180.50,135.10 181.50,135.10 C182.50,135.10 183.50,135.10 184.50,135.10 C185.50,135.10 186.50,135.10 187.50,135.10 C188.50,135.10 189.50,135.10 190.50,135.10 C191.50,135.10 192.50,135.10 193.50,135.10 C194.50,135.10 195.50,135.10 196.50,135.10 C197.50,135.10 198.50,135.10 199.50,135.10 C200.50,135.10 201.50,135.10 202.50,135.10 C203.50,135.10 204.50,135.10 205.50,135.10 C206.50,135.10 207.50,135.10 208.50,135.10 C209.50,135.10 210.50,135.10 211.50,135.10 C212.50,135.10 213.50,135.10 214.50,135.10 C215.50,135.10 216.50,135.10 217.50,135.10 C218.50,135.10 219.50,135.10 220.50,135.10 C221.50,135.10 222.50,135.10 223.50,135.10 C224.50,135.10 225.50,135.10 226.50,135.10 C227.50,135.10 228.50,135.10 229.50,135.10 C230.50,135.10 231.50,135.10 232.50,135.10 C233.50,135.10 234.50,135.10 235.50,135.10 C236.50,135.10 237.50,135.10 238.50,135.10 C239.50,135.10 240.50,135.10 241.50,135.10 C242.50,135.10 243.50,135.10 244.50,135.10 C245.50,135.10 246.50,135.10 247.50,135.10 C248.50,135.10 249.50,135.10 250.50,135.10 C251.50,135.10 252.50,135.10 253.50,135.10 C254.50,135.10 255.50,135.10 256.50,135.10 C257.50,135.10 258.50,135.10 259.50,135.10 C260.50,135.10 261.50,135.10 262.50,135.10 C263.50,135.10 264.50,135.10 265.50,135.10 C266.50,135.10 267.50,135.10 268.50,135.10 C269.50,135.10 270.50,135.10 271.50,135.10 C272.50,135.10 273.50,135.10 274.50,135.10 C275.50,135.10 276.50,135.10 277.50,135.10 C278.50,135.10 279.50,135.10 280.50,135.10 C281.50,135.10 282.50,135.10 283.50,135.10 C284.50,135.10 285.50,135.10 286.50,135.10 C287.50,135.10 288.50,135.10 289.50,135.10 C290.50,135.10 291.50,135.10 292.50,135.10 C293.50,135.10 294.50,135.10 295.50,135.10 C296.50,135.10 297.50,135.10 298.50,135.10 C299.50,135.10 300.50,135.10 301.50,135.10 C302.50,135.10 303.50,135.10 304.50,135.10 C305.50,135.10 306.50,135.10 307.50,135.10 C308.50,135.10 309.50,135.10 310.50,135.10 C311.50,135.10 312.50,135.10 313.50,135.10 C314.50,135.10 315.50,135.10 316.50,135.10 C317.50,135.10 318.50,135.10 319.50,135.10 C320.50,135.10 321.42,135.12 322.50,135.10 C323.58,135.08 324.43,135.12 326.00,135.00 C327.57,134.88 329.92,134.70 331.90,134.40 C333.88,134.10 335.92,133.70 337.90,133.20 C339.88,132.70 342.00,132.10 343.80,131.40 C345.60,130.70 347.05,129.93 348.70,129.00 C350.35,128.07 352.05,126.95 353.70,125.80 C355.35,124.65 357.12,123.18 358.60,122.10 C360.08,121.02 361.43,120.02 362.60,119.30 C363.77,118.58 364.70,118.05 365.60,117.80 C366.50,117.55 367.18,117.55 368.00,117.80 C368.82,118.05 369.58,118.47 370.50,119.30 C371.42,120.13 372.52,121.52 373.50,122.80 C374.48,124.08 375.33,125.60 376.40,127.00 C377.47,128.40 378.73,130.08 379.90,131.20 C381.07,132.32 382.17,133.12 383.40,133.70 C384.63,134.28 386.20,134.45 387.30,134.70 C388.40,134.95 388.88,135.13 390.00,135.20 C391.12,135.27 392.67,135.12 394.00,135.10 C395.33,135.08 396.67,135.10 398.00,135.10 C399.33,135.10 400.67,135.10 402.00,135.10 C403.33,135.10 404.67,135.10 406.00,135.10 C407.33,135.10 408.67,135.10 410.00,135.10 C411.33,135.10 412.67,135.10 414.00,135.10 C415.33,135.10 416.67,135.10 418.00,135.10 C419.33,135.10 420.67,135.10 422.00,135.10 C423.33,135.10 424.67,135.10 426.00,135.10 C427.33,135.10 428.67,135.10 430.00,135.10 C431.33,135.10 432.67,135.10 434.00,135.10 C435.33,135.10 436.67,135.10 438.00,135.10 C439.33,135.10 440.67,135.10 442.00,135.10 C443.33,135.10 444.67,135.10 446.00,135.10 C447.33,135.10 448.67,135.10 450.00,135.10 C451.33,135.10 452.67,135.10 454.00,135.10 C455.33,135.10 456.67,135.10 458.00,135.10 C459.33,135.10 460.67,135.10 462.00,135.10 C463.33,135.10 464.67,135.10 466.00,135.10 C467.33,135.10 468.67,135.10 470.00,135.10 C471.33,135.10 472.67,135.10 474.00,135.10 C475.33,135.10 476.67,135.10 478.00,135.10 C479.33,135.10 480.67,135.10 482.00,135.10 C483.33,135.10 484.67,135.10 486.00,135.10 C487.33,135.10 488.67,135.10 490.00,135.10 C491.33,135.10 492.67,135.10 494.00,135.10 C495.33,135.10 496.67,135.10 498.00,135.10 C499.33,135.10 500.67,135.10 502.00,135.10 C503.33,135.10 505.25,135.10 506.00,135.10 C506.75,135.10 506.42,135.10 506.50,135.10" fill="none" stroke="#e2dd30" stroke-width="2.50" stroke-linejoin="round"/>
<path d="M28.50,116.10 C29.00,116.10 30.50,116.10 31.50,116.09 C32.50,116.09 33.50,116.09 34.50,116.09 C35.50,116.09 36.50,116.09 37.50,116.09 C38.50,116.08 39.50,116.08 40.50,116.08 C41.50,116.08 42.50,116.08 43.50,116.08 C44.50,116.08 45.50,116.07 46.50,116.07 C47.50,116.07 48.50,116.07 49.50,116.07 C50.50,116.07 51.50,116.07 52.50,116.06 C53.50,116.06 54.50,116.06 55.50,116.06 C56.50,116.06 57.50,116.06 58.50,116.06 C59.50,116.05 60.50,116.05 61.50,116.05 C62.50,116.05 63.50,116.05 64.50,116.05 C65.50,116.05 66.50,116.04 67.50,116.04 C68.50,116.04 69.50,116.04 70.50,116.04 C71.50,116.04 72.50,116.04 73.50,116.03 C74.50,116.03 75.50,116.03 76.50,116.03 C77.50,116.03 78.50,116.03 79.50,116.03 C80.50,116.02 81.50,116.02 82.50,116.02 C83.50,116.02 84.50,116.02 85.50,116.02 C86.50,116.01 87.50,116.01 88.50,116.01 C89.50,116.01 90.50,116.01 91.50,116.01 C92.50,116.01 93.50,116.00 94.50,116.00 C95.50,116.00 96.50,116.00 97.50,116.00 C98.50,116.00 99.50,116.00 100.50,115.99 C101.50,115.99 102.50,115.99 103.50,115.99 C104.50,115.99 105.50,115.99 106.50,115.99 C107.50,115.98 108.50,115.98 109.50,115.98 C110.50,115.98 111.50,115.98 112.50,115.98 C113.50,115.98 114.50,115.97 115.50,115.97 C116.50,115.97 117.50,115.97 118.50,115.97 C119.50,115.97 120.50,115.97 121.50,115.96 C122.50,115.96 123.50,115.96 124.50,115.96 C125.50,115.96 126.50,115.96 127.50,115.96 C128.50,115.95 129.50,115.95 130.50,115.95 C131.50,115.95 132.50,115.95 133.50,115.95 C134.50,115.95 135.50,115.94 136.50,115.94 C137.50,115.94 138.50,115.94 139.50,115.94 C140.50,115.94 141.50,115.94 142.50,115.93 C143.50,115.93 144.50,115.93 145.50,115.93 C146.50,115.93 147.50,115.93 148.50,115.92 C149.50,115.92 150.50,115.92 151.50,115.92 C152.50,115.92 153.50,115.92 154.50,115.92 C155.50,115.91 156.50,115.91 157.50,115.91 C158.50,115.91 159.50,115.91 160.50,115.91 C161.50,115.91 162.50,115.90 163.50,115.90 C164.50,115.90 165.50,115.90 166.50,115.90 C167.50,115.90 168.50,115.90 169.50,115.89 C170.50,115.89 171.50,115.89 172.50,115.89 C173.50,115.89 174.50,115.89 175.50,115.89 C176.50,115.88 177.50,115.88 178.50,115.88 C179.50,115.88 180.50,115.88 181.50,115.88 C182.50,115.88 183.50,115.87 184.50,115.87 C185.50,115.87 186.50,115.87 187.50,115.87 C188.50,115.87 189.50,115.87 190.50,115.86 C191.50,115.86 192.50,115.86 193.50,115.86 C194.50,115.86 195.50,115.86 196.50,115.86 C197.50,115.85 198.50,115.85 199.50,115.85 C200.50,115.85 201.50,115.85 202.50,115.85 C203.50,115.85 204.50,115.84 205.50,115.84 C206.50,115.84 207.50,115.84 208.50,115.84 C209.50,115.84 210.50,115.84 211.50,115.84 C212.50,115.84 213.50,115.83 214.50,115.83 C215.50,115.83 216.50,115.83 217.50,115.83 C218.50,115.83 219.50,115.83 220.50,115.83 C221.50,115.83 222.50,115.82 223.50,115.82 C224.50,115.82 225.50,115.82 226.50,115.82 C227.50,115.82 228.50,115.82 229.50,115.82 C230.50,115.82 231.50,115.81 232.50,115.81 C233.50,115.81 234.50,115.81 235.50,115.81 C236.50,115.81 237.50,115.81 238.50,115.81 C239.50,115.80 240.50,115.80 241.50,115.80 C242.50,115.80 243.50,115.80 244.50,115.80 C245.50,115.80 246.50,115.80 247.50,115.80 C248.50,115.79 249.50,115.79 250.50,115.79 C251.50,115.79 252.50,115.79 253.50,115.79 C254.50,115.79 255.50,115.79 256.50,115.79 C257.50,115.78 258.50,115.78 259.50,115.78 C260.50,115.78 261.50,115.78 262.50,115.78 C263.50,115.78 264.50,115.78 265.50,115.78 C266.50,115.77 267.50,115.77 268.50,115.77 C269.50,115.77 270.50,115.77 271.50,115.77 C272.50,115.77 273.50,115.77 274.50,115.76 C275.50,115.76 276.50,115.76 277.50,115.76 C278.50,115.76 279.50,115.76 280.50,115.76 C281.50,115.76 282.50,115.76 283.50,115.75 C284.50,115.75 285.50,115.75 286.50,115.75 C287.50,115.75 288.50,115.75 289.50,115.75 C290.50,115.75 291.50,115.75 292.50,115.74 C293.50,115.74 294.50,115.74 295.50,115.74 C296.50,115.74 297.50,115.74 298.50,115.74 C299.50,115.74 300.50,115.74 301.50,115.73 C302.50,115.73 303.50,115.73 304.50,115.73 C305.50,115.73 306.50,115.73 307.50,115.73 C308.50,115.73 309.50,115.72 310.50,115.72 C311.50,115.72 312.50,115.72 313.50,115.72 C314.50,115.72 315.50,115.72 316.50,115.72 C317.50,115.72 318.50,115.71 319.50,115.71 C320.50,115.71 321.50,115.71 322.50,115.71 C323.50,115.71 324.50,115.71 325.50,115.71 C326.50,115.71 327.50,115.70 328.50,115.70 C329.50,115.70 330.50,115.70 331.50,115.70 C332.50,115.70 333.50,115.70 334.50,115.70 C335.50,115.70 336.50,115.69 337.50,115.69 C338.50,115.69 339.50,115.69 340.50,115.69 C341.50,115.69 342.50,115.69 343.50,115.69 C344.50,115.68 345.08,115.70 346.50,115.68 C347.92,115.67 350.10,115.69 352.00,115.59 C353.90,115.49 356.08,115.48 357.90,115.09 C359.72,114.71 361.40,114.13 362.90,113.29 C364.40,112.46 365.67,111.36 366.90,110.09 C368.13,108.83 369.15,107.18 370.30,105.69 C371.45,104.21 372.65,102.44 373.80,101.19 C374.95,99.94 376.05,98.83 377.20,98.19 C378.35,97.56 379.62,97.36 380.70,97.39 C381.78,97.43 382.63,97.68 383.70,98.39 C384.77,99.11 385.87,100.31 387.10,101.69 C388.33,103.08 389.77,105.13 391.10,106.69 C392.43,108.26 393.70,109.89 395.10,111.09 C396.50,112.29 397.77,113.19 399.50,113.89 C401.23,114.59 403.42,114.99 405.50,115.29 C407.58,115.59 410.25,115.64 412.00,115.69 C413.75,115.74 414.67,115.62 416.00,115.60 C417.33,115.59 418.67,115.60 420.00,115.60 C421.33,115.60 422.67,115.60 424.00,115.59 C425.33,115.59 426.67,115.59 428.00,115.59 C429.33,115.59 430.67,115.59 432.00,115.58 C433.33,115.58 434.67,115.58 436.00,115.58 C437.33,115.58 438.67,115.58 440.00,115.58 C441.33,115.57 442.67,115.57 444.00,115.57 C445.33,115.57 446.67,115.57 448.00,115.57 C449.33,115.56 450.67,115.56 452.00,115.56 C453.33,115.56 454.67,115.56 456.00,115.56 C457.33,115.56 458.67,115.55 460.00,115.55 C461.33,115.55 462.67,115.55 464.00,115.55 C465.33,115.55 466.67,115.54 468.00,115.54 C469.33,115.54 470.67,115.54 472.00,115.54 C473.33,115.54 474.67,115.54 476.00,115.53 C477.33,115.53 478.67,115.53 480.00,115.53 C481.33,115.53 482.67,115.53 484.00,115.53 C485.33,115.52 486.67,115.52 488.00,115.52 C489.33,115.52 490.67,115.52 492.00,115.52 C493.33,115.51 494.67,115.51 496.00,115.51 C497.33,115.51 498.67,115.51 500.00,115.51 C501.33,115.51 502.92,115.50 504.00,115.50 C505.08,115.50 506.08,115.50 506.50,115.50" fill="none" stroke="#ff9c20" stroke-width="2.50" stroke-linejoin="round"/>
<path d="M28.50,95.65 C29.00,95.65 30.50,95.65 31.50,95.65 C32.50,95.65 33.50,95.65 34.50,95.65 C35.50,95.65 36.50,95.65 37.50,95.65 C38.50,95.65 39.50,95.65 40.50,95.65 C41.50,95.65 42.50,95.65 43.50,95.65 C44.50,95.65 45.50,95.65 46.50,95.65 C47.50,95.65 48.50,95.65 49.50,95.65 C50.50,95.65 51.50,95.65 52.50,95.65 C53.50,95.65 54.50,95.65 55.50,95.65 C56.50,95.65 57.50,95.65 58.50,95.65 C59.50,95.65 60.50,95.65 61.50,95.65 C62.50,95.65 63.50,95.65 64.50,95.65 C65.50,95.65 66.50,95.65 67.50,95.65 C68.50,95.65 69.50,95.65 70.50,95.65 C71.50,95.65 72.50,95.65 73.50,95.65 C74.50,95.65 75.50,95.65 76.50,95.65 C77.50,95.65 78.50,95.65 79.50,95.65 C80.50,95.65 81.50,95.65 82.50,95.65 C83.50,95.65 84.50,95.65 85.50,95.65 C86.50,95.65 87.50,95.65 88.50,95.65 C89.50,95.65 90.50,95.65 91.50,95.65 C92.50,95.65 93.50,95.65 94.50,95.65 C95.50,95.65 96.50,95.65 97.50,95.65 C98.50,95.65 99.50,95.65 100.50,95.65 C101.50,95.65 102.50,95.65 103.50,95.65 C104.50,95.65 105.50,95.65 106.50,95.65 C107.50,95.65 108.50,95.65 109.50,95.65 C110.50,95.65 111.50,95.65 112.50,95.65 C113.50,95.65 114.50,95.65 115.50,95.65 C116.50,95.65 117.50,95.65 118.50,95.65 C119.50,95.65 120.50,95.65 121.50,95.65 C122.50,95.65 123.50,95.65 124.50,95.65 C125.50,95.65 126.50,95.65 127.50,95.65 C128.50,95.65 129.50,95.65 130.50,95.65 C131.50,95.65 132.50,95.65 133.50,95.65 C134.50,95.65 135.50,95.65 136.50,95.65 C137.50,95.65 138.50,95.65 139.50,95.65 C140.50,95.65 141.50,95.65 142.50,95.65 C143.50,95.65 144.50,95.65 145.50,95.65 C146.50,95.65 147.50,95.65 148.50,95.65 C149.50,95.65 150.50,95.65 151.50,95.65 C152.50,95.65 153.50,95.65 154.50,95.65 C155.50,95.65 156.50,95.65 157.50,95.65 C158.50,95.65 159.50,95.65 160.50,95.65 C161.50,95.65 162.50,95.65 163.50,95.65 C164.50,95.65 165.50,95.65 166.50,95.65 C167.50,95.65 168.50,95.65 169.50,95.65 C170.50,95.65 171.50,95.65 172.50,95.65 C173.50,95.65 174.50,95.65 175.50,95.65 C176.50,95.65 177.50,95.65 178.50,95.65 C179.50,95.65 180.50,95.65 181.50,95.65 C182.50,95.65 183.50,95.65 184.50,95.65 C185.50,95.65 186.50,95.65 187.50,95.65 C188.50,95.65 189.50,95.65 190.50,95.65 C191.50,95.65 192.50,95.65 193.50,95.65 C194.50,95.65 195.50,95.65 196.50,95.65 C197.50,95.65 198.50,95.65 199.50,95.65 C200.50,95.65 201.50,95.65 202.50,95.65 C203.50,95.65 204.50,95.65 205.50,95.65 C206.50,95.65 207.50,95.65 208.50,95.65 C209.50,95.65 210.50,95.65 211.50,95.65 C212.50,95.65 213.50,95.65 214.50,95.65 C215.50,95.65 216.50,95.65 217.50,95.65 C218.50,95.65 219.50,95.65 220.50,95.65 C221.50,95.65 222.50,95.65 223.50,95.65 C224.50,95.65 225.50,95.65 226.50,95.65 C227.50,95.65 228.50,95.65 229.50,95.65 C230.50,95.65 231.50,95.65 232.50,95.65 C233.50,95.65 234.50,95.65 235.50,95.65 C236.50,95.65 237.50,95.65 238.50,95.65 C239.50,95.65 240.50,95.65 241.50,95.65 C242.50,95.65 243.50,95.65 244.50,95.65 C245.50,95.65 246.50,95.65 247.50,95.65 C248.50,95.65 249.50,95.65 250.50,95.65 C251.50,95.65 252.50,95.65 253.50,95.65 C254.50,95.65 255.50,95.65 256.50,95.65 C257.50,95.65 258.50,95.65 259.50,95.65 C260.50,95.65 261.50,95.65 262.50,95.65 C263.50,95.65 264.50,95.65 265.50,95.65 C266.50,95.65 267.50,95.65 268.50,95.65 C269.50,95.65 270.50,95.65 271.50,95.65 C272.50,95.65 273.50,95.65 274.50,95.65 C275.50,95.65 276.50,95.65 277.50,95.65 C278.50,95.65 279.50,95.65 280.50,95.65 C281.50,95.65 282.50,95.65 283.50,95.65 C284.50,95.65 285.50,95.65 286.50,95.65 C287.50,95.65 288.50,95.65 289.50,95.65 C290.50,95.65 291.50,95.65 292.50,95.65 C293.50,95.65 294.50,95.65 295.50,95.65 C296.50,95.65 297.50,95.65 298.50,95.65 C299.50,95.65 300.50,95.65 301.50,95.65 C302.50,95.65 303.50,95.65 304.50,95.65 C305.50,95.65 306.50,95.65 307.50,95.65 C308.50,95.65 309.50,95.65 310.50,95.65 C311.50,95.65 312.50,95.65 313.50,95.65 C314.50,95.65 315.50,95.65 316.50,95.65 C317.50,95.65 318.50,95.65 319.50,95.65 C320.50,95.65 321.50,95.65 322.50,95.65 C323.50,95.65 324.50,95.65 325.50,95.65 C326.50,95.65 327.50,95.65 328.50,95.65 C329.50,95.65 330.50,95.65 331.50,95.65 C332.50,95.65 333.50,95.65 334.50,95.65 C335.50,95.65 336.50,95.65 337.50,95.65 C338.50,95.65 339.50,95.65 340.50,95.65 C341.50,95.65 342.50,95.65 343.50,95.65 C344.50,95.65 345.50,95.65 346.50,95.65 C347.50,95.65 348.50,95.65 349.50,95.65 C350.50,95.65 351.50,95.65 352.50,95.65 C353.50,95.65 354.50,95.65 355.50,95.65 C356.50,95.65 357.50,95.65 358.50,95.65 C359.50,95.65 360.50,95.65 361.50,95.65 C362.50,95.65 363.50,95.65 364.50,95.65 C365.50,95.65 366.25,95.71 367.50,95.65 C368.75,95.59 370.27,95.49 372.00,95.30 C373.73,95.11 375.92,94.97 377.90,94.50 C379.88,94.03 382.08,93.33 383.90,92.50 C385.72,91.67 387.15,90.73 388.80,89.50 C390.45,88.27 392.32,86.45 393.80,85.10 C395.28,83.75 396.38,82.45 397.70,81.40 C399.02,80.35 400.45,79.35 401.70,78.80 C402.95,78.25 404.05,78.05 405.20,78.10 C406.35,78.15 407.37,78.43 408.60,79.10 C409.83,79.77 411.27,80.85 412.60,82.10 C413.93,83.35 415.28,85.12 416.60,86.60 C417.92,88.08 419.18,89.77 420.50,91.00 C421.82,92.23 423.02,93.25 424.50,94.00 C425.98,94.75 427.15,95.17 429.40,95.50 C431.65,95.83 435.90,95.97 438.00,96.00 C440.10,96.03 440.67,95.71 442.00,95.65 C443.33,95.59 444.67,95.65 446.00,95.65 C447.33,95.65 448.67,95.65 450.00,95.65 C451.33,95.65 452.67,95.65 454.00,95.65 C455.33,95.65 456.67,95.65 458.00,95.65 C459.33,95.65 460.67,95.65 462.00,95.65 C463.33,95.65 464.67,95.65 466.00,95.65 C467.33,95.65 468.67,95.65 470.00,95.65 C471.33,95.65 472.67,95.65 474.00,95.65 C475.33,95.65 476.67,95.65 478.00,95.65 C479.33,95.65 480.67,95.65 482.00,95.65 C483.33,95.65 484.67,95.65 486.00,95.65 C487.33,95.65 488.67,95.65 490.00,95.65 C491.33,95.65 492.67,95.65 494.00,95.65 C495.33,95.65 496.67,95.65 498.00,95.65 C499.33,95.65 500.67,95.65 502.00,95.65 C503.33,95.65 505.25,95.65 506.00,95.65 C506.75,95.65 506.42,95.65 506.50,95.65" fill="none" stroke="#f05a12" stroke-width="2.50" stroke-linejoin="round"/>
<path d="M28.50,77.32 C29.00,77.34 30.50,77.41 31.50,77.45 C32.50,77.50 33.50,77.54 34.50,77.58 C35.50,77.62 36.50,77.69 37.50,77.69 C38.50,77.69 39.50,77.62 40.50,77.58 C41.50,77.55 42.50,77.51 43.50,77.47 C44.50,77.44 45.50,77.39 46.50,77.37 C47.50,77.35 48.50,77.33 49.50,77.36 C50.50,77.38 51.50,77.46 52.50,77.52 C53.50,77.57 54.50,77.62 55.50,77.68 C56.50,77.73 57.50,77.84 58.50,77.84 C59.50,77.84 60.50,77.76 61.50,77.67 C62.50,77.58 63.50,77.42 64.50,77.29 C65.50,77.16 66.50,77.01 67.50,76.91 C68.50,76.80 69.50,76.65 70.50,76.67 C71.50,76.69 72.50,76.91 73.50,77.04 C74.50,77.16 75.50,77.29 76.50,77.40 C77.50,77.51 78.50,77.65 79.50,77.68 C80.50,77.71 81.50,77.60 82.50,77.56 C83.50,77.53 84.50,77.49 85.50,77.45 C86.50,77.41 87.50,77.37 88.50,77.33 C89.50,77.29 90.50,77.26 91.50,77.22 C92.50,77.19 93.50,77.16 94.50,77.12 C95.50,77.09 96.50,77.02 97.50,77.02 C98.50,77.01 99.50,77.06 100.50,77.10 C101.50,77.13 102.50,77.18 103.50,77.22 C104.50,77.25 105.50,77.29 106.50,77.33 C107.50,77.37 108.50,77.41 109.50,77.45 C110.50,77.49 111.50,77.56 112.50,77.57 C113.50,77.58 114.50,77.54 115.50,77.51 C116.50,77.48 117.50,77.44 118.50,77.40 C119.50,77.36 120.50,77.32 121.50,77.28 C122.50,77.24 123.50,77.20 124.50,77.16 C125.50,77.12 126.50,77.04 127.50,77.04 C128.50,77.05 129.50,77.11 130.50,77.19 C131.50,77.26 132.50,77.38 133.50,77.48 C134.50,77.58 135.50,77.74 136.50,77.77 C137.50,77.80 138.50,77.72 139.50,77.68 C140.50,77.64 141.50,77.58 142.50,77.54 C143.50,77.49 144.50,77.45 145.50,77.40 C146.50,77.36 147.50,77.31 148.50,77.26 C149.50,77.22 150.50,77.16 151.50,77.13 C152.50,77.09 153.50,77.08 154.50,77.06 C155.50,77.04 156.50,77.02 157.50,77.00 C158.50,76.99 159.50,76.97 160.50,76.95 C161.50,76.94 162.50,76.86 163.50,76.91 C164.50,76.96 165.50,77.17 166.50,77.24 C167.50,77.31 168.50,77.34 169.50,77.34 C170.50,77.34 171.50,77.26 172.50,77.22 C173.50,77.18 174.50,77.15 175.50,77.11 C176.50,77.07 177.50,77.03 178.50,76.99 C179.50,76.95 180.50,76.91 181.50,76.87 C182.50,76.83 183.50,76.79 184.50,76.75 C185.50,76.71 186.50,76.62 187.50,76.64 C188.50,76.65 189.50,76.74 190.50,76.83 C191.50,76.91 192.50,77.05 193.50,77.15 C194.50,77.26 195.50,77.42 196.50,77.48 C197.50,77.54 198.50,77.54 199.50,77.53 C200.50,77.52 201.50,77.45 202.50,77.42 C203.50,77.38 204.50,77.34 205.50,77.30 C206.50,77.27 207.50,77.23 208.50,77.19 C209.50,77.15 210.50,77.12 211.50,77.06 C212.50,77.01 213.50,76.94 214.50,76.88 C215.50,76.82 216.50,76.71 217.50,76.69 C218.50,76.67 219.50,76.69 220.50,76.75 C221.50,76.80 222.50,76.94 223.50,77.04 C224.50,77.14 225.50,77.30 226.50,77.33 C227.50,77.36 228.50,77.27 229.50,77.21 C230.50,77.15 231.50,77.04 232.50,76.96 C233.50,76.88 234.50,76.78 235.50,76.71 C236.50,76.64 237.50,76.53 238.50,76.54 C239.50,76.56 240.50,76.72 241.50,76.79 C242.50,76.87 243.50,76.97 244.50,76.99 C245.50,77.00 246.50,76.93 247.50,76.90 C248.50,76.88 249.50,76.85 250.50,76.82 C251.50,76.79 252.50,76.76 253.50,76.74 C254.50,76.71 255.50,76.68 256.50,76.65 C257.50,76.63 258.50,76.60 259.50,76.57 C260.50,76.55 261.50,76.53 262.50,76.50 C263.50,76.48 264.50,76.46 265.50,76.43 C266.50,76.41 267.50,76.39 268.50,76.36 C269.50,76.34 270.50,76.32 271.50,76.29 C272.50,76.27 273.50,76.25 274.50,76.22 C275.50,76.20 276.50,76.18 277.50,76.15 C278.50,76.13 279.50,76.11 280.50,76.08 C281.50,76.06 282.50,75.98 283.50,76.01 C284.50,76.04 285.50,76.17 286.50,76.25 C287.50,76.33 288.50,76.46 289.50,76.48 C290.50,76.50 291.50,76.40 292.50,76.36 C293.50,76.32 294.50,76.28 295.50,76.24 C296.50,76.20 297.50,76.13 298.50,76.12 C299.50,76.11 300.50,76.14 301.50,76.16 C302.50,76.17 303.50,76.20 304.50,76.22 C305.50,76.24 306.50,76.26 307.50,76.29 C308.50,76.32 309.50,76.36 310.50,76.40 C311.50,76.44 312.50,76.48 313.50,76.52 C314.50,76.56 315.50,76.60 316.50,76.65 C317.50,76.69 318.50,76.77 319.50,76.77 C320.50,76.76 321.50,76.68 322.50,76.61 C323.50,76.53 324.50,76.43 325.50,76.34 C326.50,76.25 327.50,76.15 328.50,76.08 C329.50,76.01 330.50,75.94 331.50,75.93 C332.50,75.92 333.50,75.98 334.50,76.01 C335.50,76.04 336.50,76.05 337.50,76.10 C338.50,76.15 339.50,76.24 340.50,76.31 C341.50,76.38 342.50,76.47 343.50,76.53 C344.50,76.59 345.50,76.67 346.50,76.67 C347.50,76.68 348.50,76.60 349.50,76.56 C350.50,76.52 351.50,76.48 352.50,76.45 C353.50,76.41 354.50,76.37 355.50,76.33 C356.50,76.29 357.50,76.23 358.50,76.22 C359.50,76.20 360.50,76.23 361.50,76.25 C362.50,76.26 363.50,76.29 364.50,76.31 C365.50,76.33 366.25,76.35 367.50,76.37 C368.75,76.38 369.93,76.31 372.00,76.40 C374.07,76.49 376.90,77.01 379.90,76.90 C382.90,76.78 387.50,76.01 390.00,75.70 C392.50,75.38 393.42,75.33 394.90,75.00 C396.38,74.66 397.40,74.58 398.90,73.70 C400.40,72.81 402.25,71.01 403.90,69.70 C405.55,68.38 407.32,67.11 408.80,65.80 C410.28,64.48 411.48,62.96 412.80,61.80 C414.12,60.63 415.22,59.46 416.70,58.80 C418.18,58.13 420.05,57.71 421.70,57.80 C423.35,57.88 425.12,58.55 426.60,59.30 C428.08,60.05 429.27,61.13 430.60,62.30 C431.93,63.46 433.28,64.98 434.60,66.30 C435.92,67.61 437.18,69.01 438.50,70.20 C439.82,71.38 441.02,72.56 442.50,73.40 C443.98,74.23 445.15,74.73 447.40,75.20 C449.65,75.66 453.90,76.05 456.00,76.20 C458.10,76.34 458.67,76.11 460.00,76.08 C461.33,76.06 462.67,76.07 464.00,76.07 C465.33,76.06 466.67,76.06 468.00,76.05 C469.33,76.05 470.67,76.04 472.00,76.04 C473.33,76.03 474.67,76.03 476.00,76.02 C477.33,76.01 478.67,76.01 480.00,76.00 C481.33,76.00 482.67,75.99 484.00,75.99 C485.33,75.98 486.67,75.98 488.00,75.97 C489.33,75.97 490.67,75.96 492.00,75.96 C493.33,75.95 494.67,75.95 496.00,75.94 C497.33,75.93 498.67,75.93 500.00,75.92 C501.33,75.92 502.92,75.91 504.00,75.91 C505.08,75.90 506.08,75.90 506.50,75.90" fill="none" stroke="#c41c02" stroke-width="2.50" stroke-linejoin="round"/>
<path d="M532.70,235.00 C533.20,235.00 534.70,235.00 535.70,235.00 C536.70,235.00 537.70,235.00 538.70,235.00 C539.70,235.00 540.70,235.00 541.70,235.00 C542.70,235.00 543.70,235.00 544.70,235.00 C545.70,235.00 546.48,234.96 547.70,235.00 C548.92,235.04 550.30,235.29 552.00,235.25 C553.70,235.21 556.42,235.07 557.90,234.75 C559.38,234.43 559.98,234.50 560.90,233.35 C561.82,232.20 562.58,229.92 563.40,227.85 C564.22,225.78 565.07,222.77 565.80,220.95 C566.53,219.13 567.17,217.78 567.80,216.95 C568.43,216.12 569.02,215.95 569.60,215.95 C570.18,215.95 570.68,216.12 571.30,216.95 C571.92,217.78 572.57,219.13 573.30,220.95 C574.03,222.77 574.88,225.83 575.70,227.85 C576.52,229.87 577.28,231.90 578.20,233.05 C579.12,234.20 579.97,234.43 581.20,234.75 C582.43,235.07 583.13,234.95 585.60,234.95 C588.07,234.95 593.60,234.74 596.00,234.75 C598.40,234.76 598.67,234.96 600.00,235.00 C601.33,235.04 602.67,235.00 604.00,235.00 C605.33,235.00 606.67,235.00 608.00,235.00 C609.33,235.00 610.67,235.00 612.00,235.00 C613.33,235.00 614.67,235.00 616.00,235.00 C617.33,235.00 618.67,235.00 620.00,235.00 C621.33,235.00 622.67,235.00 624.00,235.00 C625.33,235.00 626.67,235.00 628.00,235.00 C629.33,235.00 630.67,235.00 632.00,235.00 C633.33,235.00 634.67,235.00 636.00,235.00 C637.33,235.00 638.67,235.00 640.00,235.00 C641.33,235.00 642.67,235.00 644.00,235.00 C645.33,235.00 646.67,235.00 648.00,235.00 C649.33,235.00 650.67,235.00 652.00,235.00 C653.33,235.00 654.67,235.00 656.00,235.00 C657.33,235.00 658.67,235.00 660.00,235.00 C661.33,235.00 662.67,235.00 664.00,235.00 C665.33,235.00 666.67,235.00 668.00,235.00 C669.33,235.00 670.87,235.00 672.00,235.00 C673.13,235.00 674.33,235.00 674.80,235.00" fill="none" stroke="#3e50c8" stroke-width="2.50" stroke-linejoin="round"/>
<path d="M532.70,215.30 C533.20,215.30 534.70,215.30 535.70,215.30 C536.70,215.30 537.70,215.30 538.70,215.30 C539.70,215.30 540.70,215.30 541.70,215.30 C542.70,215.30 543.70,215.30 544.70,215.30 C545.70,215.30 546.70,215.30 547.70,215.30 C548.70,215.30 549.32,215.28 550.70,215.30 C552.08,215.32 553.97,215.47 556.00,215.40 C558.03,215.33 561.25,215.27 562.90,214.90 C564.55,214.53 564.98,214.35 565.90,213.20 C566.82,212.05 567.58,209.93 568.40,208.00 C569.22,206.07 570.03,203.38 570.80,201.60 C571.57,199.82 572.30,198.22 573.00,197.30 C573.70,196.38 574.37,196.13 575.00,196.10 C575.63,196.07 576.18,196.27 576.80,197.10 C577.42,197.93 577.97,199.37 578.70,201.10 C579.43,202.83 580.37,205.60 581.20,207.50 C582.03,209.40 582.78,211.30 583.70,212.50 C584.62,213.70 585.38,214.25 586.70,214.70 C588.02,215.15 589.38,215.12 591.60,215.20 C593.82,215.28 597.93,215.18 600.00,215.20 C602.07,215.22 602.67,215.28 604.00,215.30 C605.33,215.32 606.67,215.30 608.00,215.30 C609.33,215.30 610.67,215.30 612.00,215.30 C613.33,215.30 614.67,215.30 616.00,215.30 C617.33,215.30 618.67,215.30 620.00,215.30 C621.33,215.30 622.67,215.30 624.00,215.30 C625.33,215.30 626.67,215.30 628.00,215.30 C629.33,215.30 630.67,215.30 632.00,215.30 C633.33,215.30 634.67,215.30 636.00,215.30 C637.33,215.30 638.67,215.30 640.00,215.30 C641.33,215.30 642.67,215.30 644.00,215.30 C645.33,215.30 646.67,215.30 648.00,215.30 C649.33,215.30 650.67,215.30 652.00,215.30 C653.33,215.30 654.67,215.30 656.00,215.30 C657.33,215.30 658.67,215.30 660.00,215.30 C661.33,215.30 662.67,215.30 664.00,215.30 C665.33,215.30 666.67,215.30 668.00,215.30 C669.33,215.30 670.87,215.30 672.00,215.30 C673.13,215.30 674.33,215.30 674.80,215.30" fill="none" stroke="#3596fa" stroke-width="2.50" stroke-linejoin="round"/>
<path d="M532.70,195.40 C533.20,195.40 534.70,195.40 535.70,195.40 C536.70,195.40 537.70,195.40 538.70,195.40 C539.70,195.40 540.70,195.40 541.70,195.40 C542.70,195.40 543.70,195.40 544.70,195.40 C545.70,195.40 546.70,195.40 547.70,195.40 C548.70,195.40 549.70,195.40 550.70,195.40 C551.70,195.40 552.70,195.40 553.70,195.40 C554.70,195.40 555.32,195.40 556.70,195.40 C558.08,195.40 560.13,195.45 562.00,195.40 C563.87,195.35 566.25,195.37 567.90,195.10 C569.55,194.83 570.58,194.48 571.90,193.80 C573.22,193.12 574.65,192.22 575.80,191.00 C576.95,189.78 577.88,188.15 578.80,186.50 C579.72,184.85 580.55,182.67 581.30,181.10 C582.05,179.53 582.73,177.93 583.30,177.10 C583.87,176.27 584.22,176.10 584.70,176.10 C585.18,176.10 585.67,176.27 586.20,177.10 C586.73,177.93 587.28,179.37 587.90,181.10 C588.52,182.83 589.18,185.43 589.90,187.50 C590.62,189.57 591.25,192.23 592.20,193.50 C593.15,194.77 593.30,194.78 595.60,195.10 C597.90,195.42 603.60,195.35 606.00,195.40 C608.40,195.45 608.67,195.40 610.00,195.40 C611.33,195.40 612.67,195.40 614.00,195.40 C615.33,195.40 616.67,195.40 618.00,195.40 C619.33,195.40 620.67,195.40 622.00,195.40 C623.33,195.40 624.67,195.40 626.00,195.40 C627.33,195.40 628.67,195.40 630.00,195.40 C631.33,195.40 632.67,195.40 634.00,195.40 C635.33,195.40 636.67,195.40 638.00,195.40 C639.33,195.40 640.67,195.40 642.00,195.40 C643.33,195.40 644.67,195.40 646.00,195.40 C647.33,195.40 648.67,195.40 650.00,195.40 C651.33,195.40 652.67,195.40 654.00,195.40 C655.33,195.40 656.67,195.40 658.00,195.40 C659.33,195.40 660.67,195.40 662.00,195.40 C663.33,195.40 664.67,195.40 666.00,195.40 C667.33,195.40 668.67,195.40 670.00,195.40 C671.33,195.40 673.20,195.40 674.00,195.40 C674.80,195.40 674.67,195.40 674.80,195.40" fill="none" stroke="#1ed6cc" stroke-width="2.50" stroke-linejoin="round"/>
<path d="M532.70,175.30 C533.20,175.30 534.70,175.30 535.70,175.30 C536.70,175.30 537.70,175.30 538.70,175.30 C539.70,175.30 540.70,175.30 541.70,175.30 C542.70,175.30 543.70,175.30 544.70,175.30 C545.70,175.30 546.70,175.30 547.70,175.30 C548.70,175.30 549.70,175.30 550.70,175.30 C551.70,175.30 552.70,175.30 553.70,175.30 C554.70,175.30 555.70,175.30 556.70,175.30 C557.70,175.30 558.70,175.30 559.70,175.30 C560.70,175.30 561.70,175.30 562.70,175.30 C563.70,175.30 564.70,175.30 565.70,175.30 C566.70,175.30 567.32,175.28 568.70,175.30 C570.08,175.32 572.13,175.50 574.00,175.40 C575.87,175.30 578.08,175.10 579.90,174.70 C581.72,174.30 583.42,173.95 584.90,173.00 C586.38,172.05 587.65,170.57 588.80,169.00 C589.95,167.43 590.88,165.33 591.80,163.60 C592.72,161.87 593.60,159.82 594.30,158.60 C595.00,157.38 595.47,156.75 596.00,156.30 C596.53,155.85 596.97,155.80 597.50,155.90 C598.03,156.00 598.58,156.03 599.20,156.90 C599.82,157.77 600.45,159.33 601.20,161.10 C601.95,162.87 602.88,165.60 603.70,167.50 C604.52,169.40 605.12,171.30 606.10,172.50 C607.08,173.70 607.62,174.25 609.60,174.70 C611.58,175.15 615.93,175.10 618.00,175.20 C620.07,175.30 620.67,175.28 622.00,175.30 C623.33,175.32 624.67,175.30 626.00,175.30 C627.33,175.30 628.67,175.30 630.00,175.30 C631.33,175.30 632.67,175.30 634.00,175.30 C635.33,175.30 636.67,175.30 638.00,175.30 C639.33,175.30 640.67,175.30 642.00,175.30 C643.33,175.30 644.67,175.30 646.00,175.30 C647.33,175.30 648.67,175.30 650.00,175.30 C651.33,175.30 652.67,175.30 654.00,175.30 C655.33,175.30 656.67,175.30 658.00,175.30 C659.33,175.30 660.67,175.30 662.00,175.30 C663.33,175.30 664.67,175.30 666.00,175.30 C667.33,175.30 668.67,175.30 670.00,175.30 C671.33,175.30 673.20,175.30 674.00,175.30 C674.80,175.30 674.67,175.30 674.80,175.30" fill="none" stroke="#4af886" stroke-width="2.50" stroke-linejoin="round"/>
<path d="M532.70,155.20 C533.20,155.20 534.70,155.20 535.70,155.20 C536.70,155.20 537.70,155.20 538.70,155.20 C539.70,155.20 540.70,155.20 541.70,155.20 C542.70,155.20 543.70,155.20 544.70,155.20 C545.70,155.20 546.70,155.20 547.70,155.20 C548.70,155.20 549.70,155.20 550.70,155.20 C551.70,155.20 552.70,155.20 553.70,155.20 C554.70,155.20 555.70,155.20 556.70,155.20 C557.70,155.20 558.70,155.20 559.70,155.20 C560.70,155.20 561.70,155.20 562.70,155.20 C563.70,155.20 564.70,155.20 565.70,155.20 C566.70,155.20 567.70,155.20 568.70,155.20 C569.70,155.20 570.70,155.20 571.70,155.20 C572.70,155.20 573.32,155.20 574.70,155.20 C576.08,155.20 578.13,155.28 580.00,155.20 C581.87,155.12 584.08,155.07 585.90,154.70 C587.72,154.33 589.42,153.90 590.90,153.00 C592.38,152.10 593.65,150.90 594.80,149.30 C595.95,147.70 596.88,145.22 597.80,143.40 C598.72,141.58 599.55,139.62 600.30,138.40 C601.05,137.18 601.73,136.55 602.30,136.10 C602.87,135.65 603.17,135.57 603.70,135.70 C604.23,135.83 604.83,135.95 605.50,136.90 C606.17,137.85 606.92,139.67 607.70,141.40 C608.48,143.13 609.30,145.48 610.20,147.30 C611.10,149.12 612.03,151.10 613.10,152.30 C614.17,153.50 614.78,154.02 616.60,154.50 C618.42,154.98 622.10,155.08 624.00,155.20 C625.90,155.32 626.67,155.20 628.00,155.20 C629.33,155.20 630.67,155.20 632.00,155.20 C633.33,155.20 634.67,155.20 636.00,155.20 C637.33,155.20 638.67,155.20 640.00,155.20 C641.33,155.20 642.67,155.20 644.00,155.20 C645.33,155.20 646.67,155.20 648.00,155.20 C649.33,155.20 650.67,155.20 652.00,155.20 C653.33,155.20 654.67,155.20 656.00,155.20 C657.33,155.20 658.67,155.20 660.00,155.20 C661.33,155.20 662.67,155.20 664.00,155.20 C665.33,155.20 666.67,155.20 668.00,155.20 C669.33,155.20 670.87,155.20 672.00,155.20 C673.13,155.20 674.33,155.20 674.80,155.20" fill="none" stroke="#a2fa3a" stroke-width="2.50" stroke-linejoin="round"/>
<path d="M532.70,135.30 C533.20,135.30 534.70,135.30 535.70,135.30 C536.70,135.30 537.70,135.30 538.70,135.30 C539.70,135.30 540.70,135.30 541.70,135.30 C542.70,135.30 543.70,135.30 544.70,135.30 C545.70,135.30 546.70,135.30 547.70,135.30 C548.70,135.30 549.70,135.30 550.70,135.30 C551.70,135.30 552.70,135.30 553.70,135.30 C554.70,135.30 555.70,135.30 556.70,135.30 C557.70,135.30 558.70,135.30 559.70,135.30 C560.70,135.30 561.70,135.30 562.70,135.30 C563.70,135.30 564.70,135.30 565.70,135.30 C566.70,135.30 567.70,135.30 568.70,135.30 C569.70,135.30 570.70,135.30 571.70,135.30 C572.70,135.30 573.65,135.30 574.70,135.30 C575.75,135.30 576.78,135.38 578.00,135.30 C579.22,135.22 580.68,134.95 582.00,134.80 C583.32,134.65 584.58,134.40 585.90,134.40 C587.22,134.40 588.73,134.82 589.90,134.80 C591.07,134.78 591.92,134.88 592.90,134.30 C593.88,133.72 594.82,132.70 595.80,131.30 C596.78,129.90 597.80,127.63 598.80,125.90 C599.80,124.17 600.82,122.20 601.80,120.90 C602.78,119.60 603.55,118.85 604.70,118.10 C605.85,117.35 607.37,116.73 608.70,116.40 C610.03,116.07 611.47,116.02 612.70,116.10 C613.93,116.18 615.12,116.35 616.10,116.90 C617.08,117.45 617.68,118.07 618.60,119.40 C619.52,120.73 620.62,123.08 621.60,124.90 C622.58,126.72 623.43,128.78 624.50,130.30 C625.57,131.82 626.67,133.20 628.00,134.00 C629.33,134.80 630.83,134.88 632.50,135.10 C634.17,135.32 636.42,135.27 638.00,135.30 C639.58,135.33 640.67,135.30 642.00,135.30 C643.33,135.30 644.67,135.30 646.00,135.30 C647.33,135.30 648.67,135.30 650.00,135.30 C651.33,135.30 652.67,135.30 654.00,135.30 C655.33,135.30 656.67,135.30 658.00,135.30 C659.33,135.30 660.67,135.30 662.00,135.30 C663.33,135.30 664.67,135.30 666.00,135.30 C667.33,135.30 668.67,135.30 670.00,135.30 C671.33,135.30 673.20,135.30 674.00,135.30 C674.80,135.30 674.67,135.30 674.80,135.30" fill="none" stroke="#e2dd30" stroke-width="2.50" stroke-linejoin="round"/>
<path d="M532.70,115.40 C533.20,115.40 534.70,115.40 535.70,115.40 C536.70,115.40 537.70,115.40 538.70,115.40 C539.70,115.40 540.70,115.40 541.70,115.40 C542.70,115.40 543.70,115.40 544.70,115.40 C545.70,115.40 546.70,115.40 547.70,115.40 C548.70,115.40 549.70,115.40 550.70,115.40 C551.70,115.40 552.70,115.40 553.70,115.40 C554.70,115.40 555.70,115.40 556.70,115.40 C557.70,115.40 558.70,115.40 559.70,115.40 C560.70,115.40 561.70,115.40 562.70,115.40 C563.70,115.40 564.70,115.40 565.70,115.40 C566.70,115.40 567.70,115.40 568.70,115.40 C569.70,115.40 570.70,115.40 571.70,115.40 C572.70,115.40 573.70,115.40 574.70,115.40 C575.70,115.40 576.70,115.40 577.70,115.40 C578.70,115.40 579.70,115.40 580.70,115.40 C581.70,115.40 582.70,115.40 583.70,115.40 C584.70,115.40 585.70,115.40 586.70,115.40 C587.70,115.40 588.70,115.40 589.70,115.40 C590.70,115.40 591.65,115.40 592.70,115.40 C593.75,115.40 594.47,115.45 596.00,115.40 C597.53,115.35 600.33,115.40 601.90,115.10 C603.47,114.80 604.40,114.50 605.40,113.60 C606.40,112.70 607.08,111.33 607.90,109.70 C608.72,108.07 609.48,105.62 610.30,103.80 C611.12,101.98 612.02,100.05 612.80,98.80 C613.58,97.55 614.33,96.80 615.00,96.30 C615.67,95.80 616.18,95.68 616.80,95.80 C617.42,95.92 617.97,96.17 618.70,97.00 C619.43,97.83 620.28,99.35 621.20,100.80 C622.12,102.25 623.12,104.13 624.20,105.70 C625.28,107.27 626.47,108.90 627.70,110.20 C628.93,111.50 629.97,112.68 631.60,113.50 C633.23,114.32 634.77,114.78 637.50,115.10 C640.23,115.42 645.58,115.35 648.00,115.40 C650.42,115.45 650.67,115.40 652.00,115.40 C653.33,115.40 654.67,115.40 656.00,115.40 C657.33,115.40 658.67,115.40 660.00,115.40 C661.33,115.40 662.67,115.40 664.00,115.40 C665.33,115.40 666.67,115.40 668.00,115.40 C669.33,115.40 670.87,115.40 672.00,115.40 C673.13,115.40 674.33,115.40 674.80,115.40" fill="none" stroke="#ff9c20" stroke-width="2.50" stroke-linejoin="round"/>
<path d="M532.70,95.50 C533.20,95.50 534.70,95.50 535.70,95.50 C536.70,95.50 537.70,95.50 538.70,95.50 C539.70,95.50 540.70,95.50 541.70,95.50 C542.70,95.50 543.70,95.50 544.70,95.50 C545.70,95.50 546.70,95.50 547.70,95.50 C548.70,95.50 549.70,95.50 550.70,95.50 C551.70,95.50 552.70,95.50 553.70,95.50 C554.70,95.50 555.70,95.50 556.70,95.50 C557.70,95.50 558.70,95.50 559.70,95.50 C560.70,95.50 561.70,95.50 562.70,95.50 C563.70,95.50 564.70,95.50 565.70,95.50 C566.70,95.50 567.70,95.50 568.70,95.50 C569.70,95.50 570.70,95.50 571.70,95.50 C572.70,95.50 573.70,95.50 574.70,95.50 C575.70,95.50 576.70,95.50 577.70,95.50 C578.70,95.50 579.70,95.50 580.70,95.50 C581.70,95.50 582.70,95.50 583.70,95.50 C584.70,95.50 585.65,95.50 586.70,95.50 C587.75,95.50 588.78,95.58 590.00,95.50 C591.22,95.42 592.52,95.15 594.00,95.00 C595.48,94.85 597.27,94.57 598.90,94.60 C600.53,94.63 602.32,95.13 603.80,95.20 C605.28,95.27 606.63,95.32 607.80,95.00 C608.97,94.68 609.82,94.28 610.80,93.30 C611.78,92.32 612.72,90.47 613.70,89.10 C614.68,87.73 615.70,86.17 616.70,85.10 C617.70,84.03 618.72,83.35 619.70,82.70 C620.68,82.05 621.62,81.87 622.60,81.20 C623.58,80.53 624.60,79.45 625.60,78.70 C626.60,77.95 627.70,76.92 628.60,76.70 C629.50,76.48 630.18,76.73 631.00,77.40 C631.82,78.07 632.58,79.48 633.50,80.70 C634.42,81.92 635.50,83.38 636.50,84.70 C637.50,86.02 638.52,87.37 639.50,88.60 C640.48,89.83 641.25,91.15 642.40,92.10 C643.55,93.05 644.92,93.77 646.40,94.30 C647.88,94.83 649.70,95.10 651.30,95.30 C652.90,95.50 654.55,95.47 656.00,95.50 C657.45,95.53 658.67,95.50 660.00,95.50 C661.33,95.50 662.67,95.50 664.00,95.50 C665.33,95.50 666.67,95.50 668.00,95.50 C669.33,95.50 670.87,95.50 672.00,95.50 C673.13,95.50 674.33,95.50 674.80,95.50" fill="none" stroke="#f05a12" stroke-width="2.50" stroke-linejoin="round"/>
<path d="M532.70,75.70 C533.20,75.69 534.70,75.69 535.70,75.68 C536.70,75.68 537.70,75.67 538.70,75.67 C539.70,75.66 540.70,75.66 541.70,75.65 C542.70,75.64 543.70,75.64 544.70,75.63 C545.70,75.63 546.70,75.62 547.70,75.62 C548.70,75.61 549.70,75.61 550.70,75.60 C551.70,75.60 552.70,75.59 553.70,75.59 C554.70,75.58 555.70,75.58 556.70,75.57 C557.70,75.57 558.70,75.56 559.70,75.56 C560.70,75.55 561.70,75.55 562.70,75.54 C563.70,75.54 564.70,75.53 565.70,75.53 C566.70,75.52 567.70,75.52 568.70,75.51 C569.70,75.51 570.70,75.50 571.70,75.49 C572.70,75.49 573.70,75.48 574.70,75.48 C575.70,75.47 576.70,75.47 577.70,75.46 C578.70,75.46 579.70,75.45 580.70,75.45 C581.70,75.44 582.70,75.44 583.70,75.43 C584.70,75.43 585.65,75.37 586.70,75.42 C587.75,75.46 588.47,75.72 590.00,75.70 C591.53,75.68 594.08,75.53 595.90,75.30 C597.72,75.07 599.25,74.58 600.90,74.30 C602.55,74.02 604.15,73.60 605.80,73.60 C607.45,73.60 609.28,74.05 610.80,74.30 C612.32,74.55 613.55,75.30 614.90,75.10 C616.25,74.90 617.67,74.18 618.90,73.10 C620.13,72.02 621.23,70.33 622.30,68.60 C623.37,66.87 624.30,64.43 625.30,62.70 C626.30,60.97 627.32,59.28 628.30,58.20 C629.28,57.12 630.30,56.60 631.20,56.20 C632.10,55.80 632.78,55.75 633.70,55.80 C634.62,55.85 635.72,56.02 636.70,56.50 C637.68,56.98 638.62,57.67 639.60,58.70 C640.58,59.73 641.60,61.30 642.60,62.70 C643.60,64.10 644.60,65.70 645.60,67.10 C646.60,68.50 647.45,69.98 648.60,71.10 C649.75,72.22 651.02,73.18 652.50,73.80 C653.98,74.42 655.58,74.58 657.50,74.80 C659.42,75.02 662.25,75.00 664.00,75.10 C665.75,75.20 666.67,75.35 668.00,75.40 C669.33,75.45 670.87,75.40 672.00,75.40 C673.13,75.40 674.33,75.40 674.80,75.40" fill="none" stroke="#c41c02" stroke-width="2.50" stroke-linejoin="round"/>
<g class="t" fill="#383838" font-size="12">
<text x="58.00" y="257.6" text-anchor="middle">50</text>
<text x="87.43" y="257.6" text-anchor="middle">51</text>
<text x="116.86" y="257.6" text-anchor="middle">52</text>
<text x="146.29" y="257.6" text-anchor="middle">53</text>
<text x="175.72" y="257.6" text-anchor="middle">54</text>
<text x="205.15" y="257.6" text-anchor="middle">55</text>
<text x="234.58" y="257.6" text-anchor="middle">56</text>
<text x="264.01" y="257.6" text-anchor="middle">57</text>
<text x="293.44" y="257.6" text-anchor="middle">58</text>
<text x="322.87" y="257.6" text-anchor="middle">59</text>
<text x="352.30" y="257.6" text-anchor="middle">60</text>
<text x="381.73" y="257.6" text-anchor="middle">61</text>
<text x="411.16" y="257.6" text-anchor="middle">62</text>
<text x="440.59" y="257.6" text-anchor="middle">63</text>
<text x="470.02" y="257.6" text-anchor="middle">64</text>
<text x="499.45" y="257.6" text-anchor="middle">65</text>
<text x="532.70" y="257.6" text-anchor="middle">370</text>
<text x="580.07" y="257.6" text-anchor="middle">400</text>
<text x="627.43" y="257.6" text-anchor="middle">430</text>
<text x="674.80" y="257.6" text-anchor="middle">460</text>
<text x="532.40" y="43.6" text-anchor="middle">3.4</text>
<text x="579.67" y="43.6" text-anchor="middle">3.1</text>
<text x="626.53" y="43.6" text-anchor="middle">2.9</text>
<text x="673.70" y="43.6" text-anchor="middle">2.7</text>
<text x="0" y="0" font-size="12.8" transform="translate(56.20,44.50) rotate(-45)">24.8</text>
<text x="0" y="0" font-size="12.8" transform="translate(85.63,44.50) rotate(-45)">24.3</text>
<text x="0" y="0" font-size="12.8" transform="translate(115.06,44.50) rotate(-45)">23.8</text>
<text x="0" y="0" font-size="12.8" transform="translate(144.49,44.50) rotate(-45)">23.4</text>
<text x="0" y="0" font-size="12.8" transform="translate(173.92,44.50) rotate(-45)">23</text>
<text x="0" y="0" font-size="12.8" transform="translate(203.35,44.50) rotate(-45)">22.5</text>
<text x="0" y="0" font-size="12.8" transform="translate(232.78,44.50) rotate(-45)">22.1</text>
<text x="0" y="0" font-size="12.8" transform="translate(262.21,44.50) rotate(-45)">21.8</text>
<text x="0" y="0" font-size="12.8" transform="translate(291.64,44.50) rotate(-45)">21.4</text>
<text x="0" y="0" font-size="12.8" transform="translate(321.07,44.50) rotate(-45)">21</text>
<text x="0" y="0" font-size="12.8" transform="translate(350.50,44.50) rotate(-45)">20.7</text>
<text x="0" y="0" font-size="12.8" transform="translate(379.93,44.50) rotate(-45)">20.3</text>
<text x="0" y="0" font-size="12.8" transform="translate(409.36,44.50) rotate(-45)">20</text>
<text x="0" y="0" font-size="12.8" transform="translate(438.79,44.50) rotate(-45)">19.7</text>
<text x="0" y="0" font-size="12.8" transform="translate(468.22,44.50) rotate(-45)">19.4</text>
<text x="0" y="0" font-size="12.8" transform="translate(497.65,44.50) rotate(-45)">19.1</text>
</g>
<g class="t" fill="#383838" font-size="14">
<text x="268" y="12.5" text-anchor="middle">Photon energy [eV]</text>
<text x="267.6" y="276.2" text-anchor="middle">Wavelength [nm]</text>
<text x="0" y="0" text-anchor="middle" font-size="14.1" transform="translate(19.6,145.3) rotate(-90)">Intensity [arb. u.]</text>
</g>
<g class="t" fill="#000" font-size="15" font-weight="bold">
<text x="0.5" y="16.6">a)</text>
<text x="511.5" y="16.6">b)</text>
</g>
</svg></body></html>
